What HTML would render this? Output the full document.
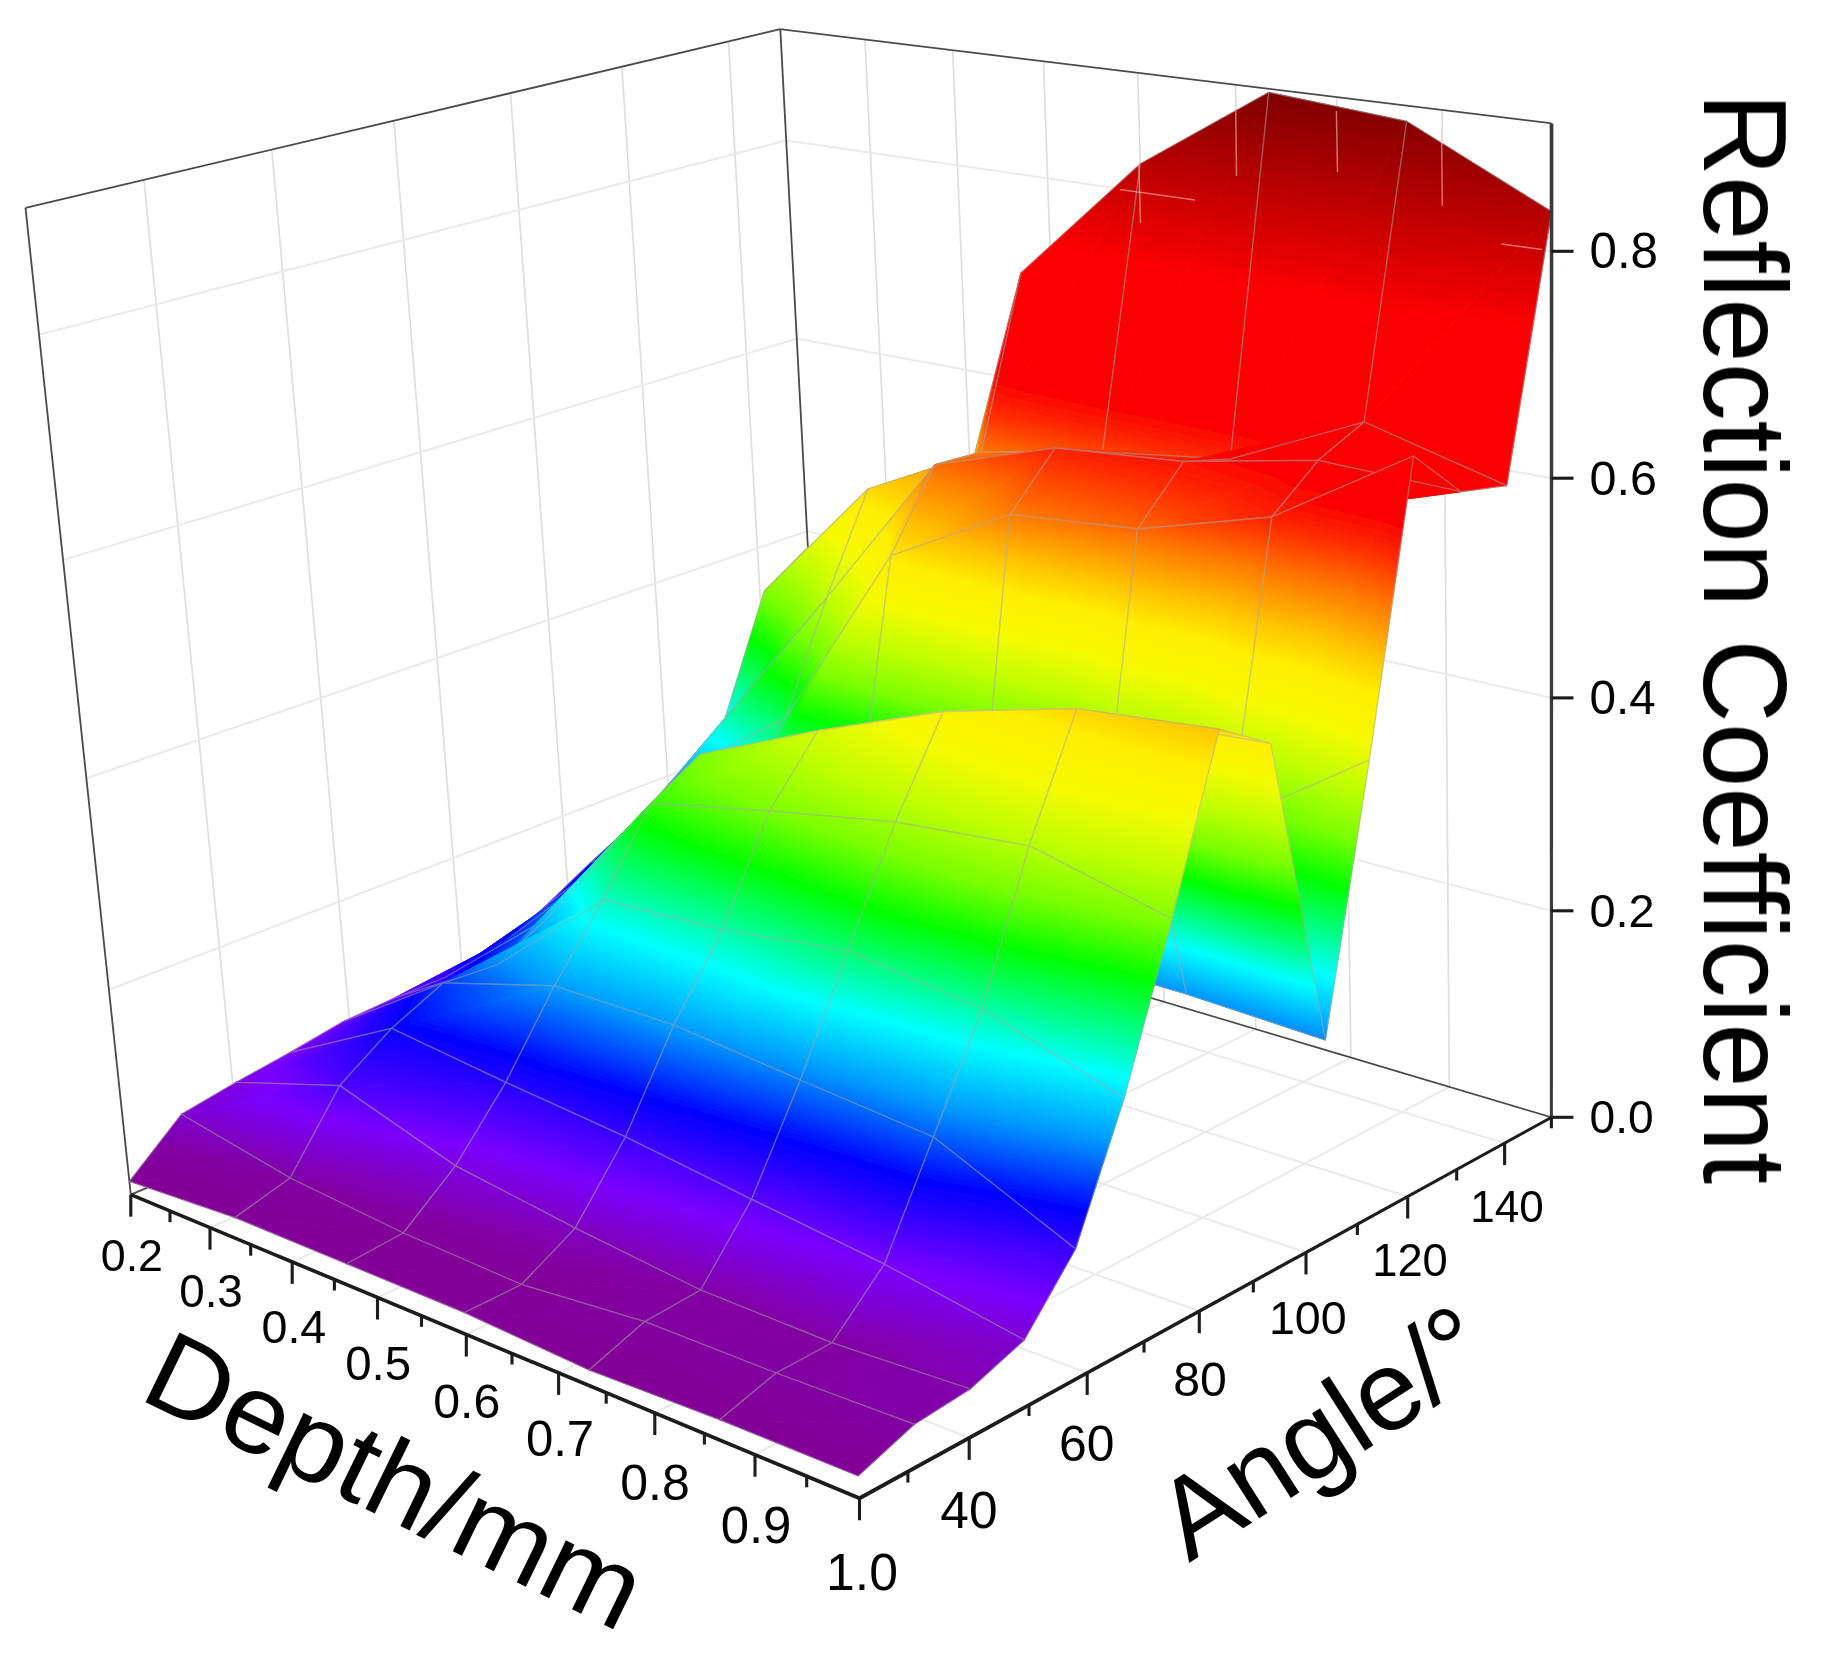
<!DOCTYPE html>
<html><head><meta charset="utf-8"><title>Reflection Coefficient surface</title>
<style>html,body{margin:0;padding:0;background:#fff}svg{display:block}
.g{stroke:#eaeaea;stroke-width:2;fill:none}.gv{stroke:#dedede;stroke-width:1.7;fill:none}.b{stroke:#4a4a4a;stroke-width:1.8;fill:none}
.w{stroke:#a8a8a8;stroke-opacity:.5;stroke-width:1.3;fill:none;stroke-linejoin:round}
.ax{stroke:#1a1a1a;stroke-width:4.5;fill:none;stroke-linejoin:miter}.az{stroke:#3a3a3a;stroke-width:4.2}
.t{stroke:#1c1c1c;stroke-width:3.1}.ar{stroke:#ffd0c8;stroke-opacity:.55;stroke-width:1.5}
polygon{stroke-width:.9;stroke-linejoin:round}
text{font-family:"Liberation Sans",sans-serif;fill:#050505}
</style></head><body>
<svg width="1821" height="1659" viewBox="0 0 1821 1659">
<defs><filter id="bl" x="-2%" y="-2%" width="104%" height="104%"><feGaussianBlur stdDeviation="0.7"/></filter><linearGradient id="g1" gradientUnits="userSpaceOnUse" x1="771.8" y1="673.5" x2="760.7" y2="551.2"><stop offset="0.000" stop-color="#00ff3f"/><stop offset="0.198" stop-color="#00ff00"/><stop offset="0.635" stop-color="#78ff00"/><stop offset="1.000" stop-color="#b3ff00"/></linearGradient>
<linearGradient id="g2" gradientUnits="userSpaceOnUse" x1="759.0" y1="643.6" x2="775.5" y2="479.7"><stop offset="0.000" stop-color="#00ff3f"/><stop offset="0.094" stop-color="#00ff00"/><stop offset="0.302" stop-color="#78ff00"/><stop offset="0.510" stop-color="#beff00"/><stop offset="0.718" stop-color="#f5fa00"/><stop offset="0.925" stop-color="#ffee00"/><stop offset="1.000" stop-color="#ffd900"/></linearGradient>
<linearGradient id="g3" gradientUnits="userSpaceOnUse" x1="921.9" y1="660.0" x2="1005.8" y2="663.2"><stop offset="0.000" stop-color="#00ff3f"/><stop offset="0.044" stop-color="#00ff00"/><stop offset="0.141" stop-color="#78ff00"/><stop offset="0.237" stop-color="#beff00"/><stop offset="0.334" stop-color="#f5fa00"/><stop offset="0.431" stop-color="#ffee00"/><stop offset="0.504" stop-color="#ffc300"/><stop offset="0.600" stop-color="#ff7d00"/><stop offset="0.697" stop-color="#ff2d00"/><stop offset="0.770" stop-color="#fa0000"/><stop offset="1.000" stop-color="#fa0000"/></linearGradient>
<linearGradient id="g4" gradientUnits="userSpaceOnUse" x1="847.0" y1="650.3" x2="874.6" y2="438.1"><stop offset="0.000" stop-color="#00ff3f"/><stop offset="0.072" stop-color="#00ff00"/><stop offset="0.230" stop-color="#78ff00"/><stop offset="0.388" stop-color="#beff00"/><stop offset="0.546" stop-color="#f5fa00"/><stop offset="0.704" stop-color="#ffee00"/><stop offset="0.822" stop-color="#ffc300"/><stop offset="0.980" stop-color="#ff7d00"/><stop offset="1.000" stop-color="#ff7300"/></linearGradient>
<linearGradient id="g5" gradientUnits="userSpaceOnUse" x1="981.4" y1="452.0" x2="1072.2" y2="143.7"><stop offset="0.000" stop-color="#ff7300"/><stop offset="0.124" stop-color="#ff2d00"/><stop offset="0.231" stop-color="#fa0000"/><stop offset="0.694" stop-color="#fa0000"/><stop offset="1.000" stop-color="#b90000"/></linearGradient>
<linearGradient id="g6" gradientUnits="userSpaceOnUse" x1="981.4" y1="452.0" x2="1049.9" y2="143.7"><stop offset="0.000" stop-color="#ff7300"/><stop offset="0.124" stop-color="#ff2d00"/><stop offset="0.231" stop-color="#fa0000"/><stop offset="0.694" stop-color="#fa0000"/><stop offset="1.000" stop-color="#b90000"/></linearGradient>
<linearGradient id="g7" gradientUnits="userSpaceOnUse" x1="1102.5" y1="452.0" x2="1163.4" y2="75.3"><stop offset="0.000" stop-color="#ff4400"/><stop offset="0.034" stop-color="#ff2d00"/><stop offset="0.123" stop-color="#fa0000"/><stop offset="0.507" stop-color="#fa0000"/><stop offset="0.802" stop-color="#af0000"/><stop offset="1.000" stop-color="#7f0000"/></linearGradient>
<linearGradient id="g8" gradientUnits="userSpaceOnUse" x1="1102.5" y1="452.0" x2="1181.5" y2="74.1"><stop offset="0.000" stop-color="#ff4400"/><stop offset="0.034" stop-color="#ff2d00"/><stop offset="0.123" stop-color="#fa0000"/><stop offset="0.507" stop-color="#fa0000"/><stop offset="0.802" stop-color="#af0000"/><stop offset="1.000" stop-color="#7f0000"/></linearGradient>
<linearGradient id="g9" gradientUnits="userSpaceOnUse" x1="1230.3" y1="459.0" x2="1274.8" y2="93.0"><stop offset="0.000" stop-color="#fe2500"/><stop offset="0.077" stop-color="#fa0000"/><stop offset="0.481" stop-color="#fa0000"/><stop offset="0.792" stop-color="#af0000"/><stop offset="1.000" stop-color="#7f0000"/></linearGradient>
<linearGradient id="g10" gradientUnits="userSpaceOnUse" x1="1230.3" y1="459.0" x2="1318.6" y2="99.7"><stop offset="0.000" stop-color="#fe2500"/><stop offset="0.079" stop-color="#fa0000"/><stop offset="0.497" stop-color="#fa0000"/><stop offset="0.819" stop-color="#af0000"/><stop offset="1.000" stop-color="#870000"/></linearGradient>
<linearGradient id="g11" gradientUnits="userSpaceOnUse" x1="1364.2" y1="422.0" x2="1397.1" y2="120.3"><stop offset="0.000" stop-color="#fa0000"/><stop offset="0.384" stop-color="#fa0000"/><stop offset="0.778" stop-color="#af0000"/><stop offset="1.000" stop-color="#870000"/></linearGradient>
<linearGradient id="g12" gradientUnits="userSpaceOnUse" x1="1358.0" y1="462.7" x2="1400.2" y2="188.2"><stop offset="0.000" stop-color="#fa0200"/><stop offset="0.005" stop-color="#fa0000"/><stop offset="0.581" stop-color="#fa0000"/><stop offset="1.000" stop-color="#b30000"/></linearGradient>
<linearGradient id="g13" gradientUnits="userSpaceOnUse" x1="725.1" y1="718.0" x2="876.8" y2="495.0"><stop offset="0.000" stop-color="#00fffe"/><stop offset="0.145" stop-color="#00ff80"/><stop offset="0.294" stop-color="#00ff00"/><stop offset="0.456" stop-color="#78ff00"/><stop offset="0.618" stop-color="#beff00"/><stop offset="0.780" stop-color="#f5fa00"/><stop offset="0.942" stop-color="#ffee00"/><stop offset="1.000" stop-color="#ffd900"/></linearGradient>
<linearGradient id="g14" gradientUnits="userSpaceOnUse" x1="725.1" y1="718.0" x2="931.2" y2="594.1"><stop offset="0.000" stop-color="#00fffe"/><stop offset="0.145" stop-color="#00ff80"/><stop offset="0.294" stop-color="#00ff00"/><stop offset="0.456" stop-color="#78ff00"/><stop offset="0.618" stop-color="#beff00"/><stop offset="0.780" stop-color="#f5fa00"/><stop offset="0.942" stop-color="#ffee00"/><stop offset="1.000" stop-color="#ffd900"/></linearGradient>
<linearGradient id="g15" gradientUnits="userSpaceOnUse" x1="826.5" y1="598.2" x2="895.2" y2="419.0"><stop offset="0.000" stop-color="#beff00"/><stop offset="0.258" stop-color="#f5fa00"/><stop offset="0.516" stop-color="#ffee00"/><stop offset="0.710" stop-color="#ffc300"/><stop offset="0.968" stop-color="#ff7d00"/><stop offset="1.000" stop-color="#ff7300"/></linearGradient>
<linearGradient id="g16" gradientUnits="userSpaceOnUse" x1="826.5" y1="598.2" x2="798.1" y2="507.3"><stop offset="0.000" stop-color="#beff00"/><stop offset="0.253" stop-color="#f5fa00"/><stop offset="0.506" stop-color="#ffee00"/><stop offset="0.696" stop-color="#ffc300"/><stop offset="0.949" stop-color="#ff7d00"/><stop offset="1.000" stop-color="#ff6d00"/></linearGradient>
<linearGradient id="g17" gradientUnits="userSpaceOnUse" x1="934.1" y1="461.7" x2="939.0" y2="485.5"><stop offset="0.000" stop-color="#ff7300"/><stop offset="1.000" stop-color="#ff4400"/></linearGradient>
<linearGradient id="g18" gradientUnits="userSpaceOnUse" x1="934.8" y1="464.7" x2="934.3" y2="452.7"><stop offset="0.000" stop-color="#ff6d00"/><stop offset="0.810" stop-color="#ff2d00"/><stop offset="1.000" stop-color="#fe2200"/></linearGradient>
<linearGradient id="g19" gradientUnits="userSpaceOnUse" x1="1055.3" y1="449.1" x2="1055.4" y2="448.0"><stop offset="0.000" stop-color="#ff4400"/><stop offset="0.607" stop-color="#ff2d00"/><stop offset="1.000" stop-color="#fe2200"/></linearGradient>
<linearGradient id="g20" gradientUnits="userSpaceOnUse" x1="1055.5" y1="447.1" x2="1055.1" y2="452.7"><stop offset="0.000" stop-color="#fe2500"/><stop offset="1.000" stop-color="#fc1100"/></linearGradient>
<linearGradient id="g21" gradientUnits="userSpaceOnUse" x1="1184.2" y1="465.5" x2="1181.7" y2="447.9"><stop offset="0.000" stop-color="#fe2500"/><stop offset="0.432" stop-color="#fa0000"/><stop offset="1.000" stop-color="#fa0000"/></linearGradient>
<linearGradient id="g22" gradientUnits="userSpaceOnUse" x1="1183.6" y1="461.5" x2="1252.7" y2="351.8"><stop offset="0.000" stop-color="#fc1100"/><stop offset="0.264" stop-color="#fa0000"/><stop offset="1.000" stop-color="#fa0000"/></linearGradient>
<linearGradient id="g23" gradientUnits="userSpaceOnUse" x1="1318.7" y1="487.9" x2="1317.9" y2="422.6"><stop offset="0.000" stop-color="#fa0200"/><stop offset="0.031" stop-color="#fa0000"/><stop offset="1.000" stop-color="#fa0000"/></linearGradient>
<linearGradient id="g24" gradientUnits="userSpaceOnUse" x1="1324.7" y1="436.8" x2="1318.3" y2="460.3"><stop offset="0.000" stop-color="#fa0200"/><stop offset="0.073" stop-color="#fa0000"/><stop offset="1.000" stop-color="#fa0000"/></linearGradient>
<linearGradient id="g25" gradientUnits="userSpaceOnUse" x1="681.0" y1="770.0" x2="680.7" y2="769.8"><stop offset="0.000" stop-color="#00aeff"/><stop offset="0.191" stop-color="#00ffff"/><stop offset="0.382" stop-color="#00ff80"/><stop offset="0.577" stop-color="#00ff00"/><stop offset="0.789" stop-color="#78ff00"/><stop offset="1.000" stop-color="#beff00"/></linearGradient>
<linearGradient id="g26" gradientUnits="userSpaceOnUse" x1="681.0" y1="770.0" x2="799.9" y2="581.5"><stop offset="0.000" stop-color="#00aeff"/><stop offset="0.191" stop-color="#00ffff"/><stop offset="0.382" stop-color="#00ff80"/><stop offset="0.577" stop-color="#00ff00"/><stop offset="0.789" stop-color="#78ff00"/><stop offset="1.000" stop-color="#beff00"/></linearGradient>
<linearGradient id="g27" gradientUnits="userSpaceOnUse" x1="785.4" y1="718.6" x2="988.8" y2="520.1"><stop offset="0.000" stop-color="#00ff56"/><stop offset="0.095" stop-color="#00ff00"/><stop offset="0.247" stop-color="#78ff00"/><stop offset="0.399" stop-color="#beff00"/><stop offset="0.551" stop-color="#f5fa00"/><stop offset="0.703" stop-color="#ffee00"/><stop offset="0.817" stop-color="#ffc300"/><stop offset="0.970" stop-color="#ff7d00"/><stop offset="1.000" stop-color="#ff6d00"/></linearGradient>
<linearGradient id="g28" gradientUnits="userSpaceOnUse" x1="785.4" y1="718.6" x2="900.4" y2="733.3"><stop offset="0.000" stop-color="#00ff56"/><stop offset="0.095" stop-color="#00ff00"/><stop offset="0.247" stop-color="#78ff00"/><stop offset="0.399" stop-color="#beff00"/><stop offset="0.551" stop-color="#f5fa00"/><stop offset="0.703" stop-color="#ffee00"/><stop offset="0.817" stop-color="#ffc300"/><stop offset="0.970" stop-color="#ff7d00"/><stop offset="1.000" stop-color="#ff6d00"/></linearGradient>
<linearGradient id="g29" gradientUnits="userSpaceOnUse" x1="890.9" y1="555.7" x2="940.7" y2="409.0"><stop offset="0.000" stop-color="#ffe600"/><stop offset="0.219" stop-color="#ffc300"/><stop offset="0.576" stop-color="#ff7d00"/><stop offset="0.933" stop-color="#ff2d00"/><stop offset="1.000" stop-color="#fe2200"/></linearGradient>
<linearGradient id="g30" gradientUnits="userSpaceOnUse" x1="890.9" y1="555.7" x2="1017.7" y2="414.2"><stop offset="0.000" stop-color="#ffe600"/><stop offset="0.219" stop-color="#ffc300"/><stop offset="0.576" stop-color="#ff7d00"/><stop offset="0.933" stop-color="#ff2d00"/><stop offset="1.000" stop-color="#fe2200"/></linearGradient>
<linearGradient id="g31" gradientUnits="userSpaceOnUse" x1="1009.8" y1="514.5" x2="1031.9" y2="424.3"><stop offset="0.000" stop-color="#ff7c00"/><stop offset="0.683" stop-color="#ff2d00"/><stop offset="1.000" stop-color="#fc1100"/></linearGradient>
<linearGradient id="g32" gradientUnits="userSpaceOnUse" x1="1009.8" y1="514.5" x2="1035.0" y2="421.4"><stop offset="0.000" stop-color="#ff7c00"/><stop offset="0.683" stop-color="#ff2d00"/><stop offset="1.000" stop-color="#fc1100"/></linearGradient>
<linearGradient id="g33" gradientUnits="userSpaceOnUse" x1="1137.7" y1="529.0" x2="1173.8" y2="414.7"><stop offset="0.000" stop-color="#ff6500"/><stop offset="0.394" stop-color="#ff2d00"/><stop offset="0.816" stop-color="#fa0000"/><stop offset="1.000" stop-color="#fa0000"/></linearGradient>
<linearGradient id="g34" gradientUnits="userSpaceOnUse" x1="1137.7" y1="529.0" x2="1206.5" y2="400.5"><stop offset="0.000" stop-color="#ff6500"/><stop offset="0.394" stop-color="#ff2d00"/><stop offset="0.816" stop-color="#fa0000"/><stop offset="1.000" stop-color="#fa0000"/></linearGradient>
<linearGradient id="g35" gradientUnits="userSpaceOnUse" x1="1271.9" y1="517.0" x2="1282.7" y2="454.2"><stop offset="0.000" stop-color="#fe2100"/><stop offset="0.627" stop-color="#fa0000"/><stop offset="1.000" stop-color="#fa0000"/></linearGradient>
<linearGradient id="g36" gradientUnits="userSpaceOnUse" x1="1271.9" y1="517.0" x2="1271.6" y2="456.8"><stop offset="0.000" stop-color="#fe2100"/><stop offset="0.283" stop-color="#fa0000"/><stop offset="1.000" stop-color="#fa0000"/></linearGradient>
<linearGradient id="g37" gradientUnits="userSpaceOnUse" x1="636.2" y1="821.0" x2="778.3" y2="830.0"><stop offset="0.000" stop-color="#004fff"/><stop offset="0.200" stop-color="#0096ff"/><stop offset="0.596" stop-color="#00ffff"/><stop offset="0.899" stop-color="#00ff80"/><stop offset="1.000" stop-color="#00ff56"/></linearGradient>
<linearGradient id="g38" gradientUnits="userSpaceOnUse" x1="636.2" y1="821.0" x2="730.9" y2="681.6"><stop offset="0.000" stop-color="#004fff"/><stop offset="0.200" stop-color="#0096ff"/><stop offset="0.596" stop-color="#00ffff"/><stop offset="0.899" stop-color="#00ff80"/><stop offset="1.000" stop-color="#00ff56"/></linearGradient>
<linearGradient id="g39" gradientUnits="userSpaceOnUse" x1="741.8" y1="800.4" x2="813.9" y2="821.3"><stop offset="0.000" stop-color="#00d9ff"/><stop offset="0.067" stop-color="#00ffff"/><stop offset="0.207" stop-color="#00ff80"/><stop offset="0.352" stop-color="#00ff00"/><stop offset="0.509" stop-color="#78ff00"/><stop offset="0.666" stop-color="#beff00"/><stop offset="0.822" stop-color="#f5fa00"/><stop offset="0.979" stop-color="#ffee00"/><stop offset="1.000" stop-color="#ffe600"/></linearGradient>
<linearGradient id="g40" gradientUnits="userSpaceOnUse" x1="741.8" y1="800.4" x2="816.8" y2="534.8"><stop offset="0.000" stop-color="#00d9ff"/><stop offset="0.067" stop-color="#00ffff"/><stop offset="0.207" stop-color="#00ff80"/><stop offset="0.352" stop-color="#00ff00"/><stop offset="0.509" stop-color="#78ff00"/><stop offset="0.666" stop-color="#beff00"/><stop offset="0.822" stop-color="#f5fa00"/><stop offset="0.979" stop-color="#ffee00"/><stop offset="1.000" stop-color="#ffe600"/></linearGradient>
<linearGradient id="g41" gradientUnits="userSpaceOnUse" x1="855.9" y1="832.7" x2="944.9" y2="497.3"><stop offset="0.000" stop-color="#00d9ff"/><stop offset="0.053" stop-color="#00ffff"/><stop offset="0.165" stop-color="#00ff80"/><stop offset="0.281" stop-color="#00ff00"/><stop offset="0.406" stop-color="#78ff00"/><stop offset="0.531" stop-color="#beff00"/><stop offset="0.656" stop-color="#f5fa00"/><stop offset="0.780" stop-color="#ffee00"/><stop offset="0.874" stop-color="#ffc300"/><stop offset="0.999" stop-color="#ff7d00"/><stop offset="1.000" stop-color="#ff7c00"/></linearGradient>
<linearGradient id="g42" gradientUnits="userSpaceOnUse" x1="850.4" y1="853.6" x2="944.4" y2="497.2"><stop offset="0.000" stop-color="#00acff"/><stop offset="0.109" stop-color="#00ffff"/><stop offset="0.214" stop-color="#00ff80"/><stop offset="0.323" stop-color="#00ff00"/><stop offset="0.441" stop-color="#78ff00"/><stop offset="0.558" stop-color="#beff00"/><stop offset="0.676" stop-color="#f5fa00"/><stop offset="0.793" stop-color="#ffee00"/><stop offset="0.881" stop-color="#ffc300"/><stop offset="0.999" stop-color="#ff7d00"/><stop offset="1.000" stop-color="#ff7c00"/></linearGradient>
<linearGradient id="g43" gradientUnits="userSpaceOnUse" x1="976.5" y1="886.9" x2="1057.1" y2="511.7"><stop offset="0.000" stop-color="#00acff"/><stop offset="0.105" stop-color="#00ffff"/><stop offset="0.207" stop-color="#00ff80"/><stop offset="0.313" stop-color="#00ff00"/><stop offset="0.426" stop-color="#78ff00"/><stop offset="0.540" stop-color="#beff00"/><stop offset="0.653" stop-color="#f5fa00"/><stop offset="0.767" stop-color="#ffee00"/><stop offset="0.852" stop-color="#ffc300"/><stop offset="0.966" stop-color="#ff7d00"/><stop offset="1.000" stop-color="#ff6500"/></linearGradient>
<linearGradient id="g44" gradientUnits="userSpaceOnUse" x1="976.5" y1="886.9" x2="1108.2" y2="518.4"><stop offset="0.000" stop-color="#00acff"/><stop offset="0.105" stop-color="#00ffff"/><stop offset="0.207" stop-color="#00ff80"/><stop offset="0.313" stop-color="#00ff00"/><stop offset="0.426" stop-color="#78ff00"/><stop offset="0.540" stop-color="#beff00"/><stop offset="0.653" stop-color="#f5fa00"/><stop offset="0.767" stop-color="#ffee00"/><stop offset="0.852" stop-color="#ffc300"/><stop offset="0.966" stop-color="#ff7d00"/><stop offset="1.000" stop-color="#ff6500"/></linearGradient>
<linearGradient id="g45" gradientUnits="userSpaceOnUse" x1="1099.9" y1="860.1" x2="1180.9" y2="496.7"><stop offset="0.000" stop-color="#00ffae"/><stop offset="0.040" stop-color="#00ff80"/><stop offset="0.152" stop-color="#00ff00"/><stop offset="0.274" stop-color="#78ff00"/><stop offset="0.396" stop-color="#beff00"/><stop offset="0.518" stop-color="#f5fa00"/><stop offset="0.640" stop-color="#ffee00"/><stop offset="0.732" stop-color="#ffc300"/><stop offset="0.854" stop-color="#ff7d00"/><stop offset="0.976" stop-color="#ff2d00"/><stop offset="1.000" stop-color="#fe2100"/></linearGradient>
<linearGradient id="g46" gradientUnits="userSpaceOnUse" x1="1099.9" y1="860.1" x2="1229.8" y2="501.7"><stop offset="0.000" stop-color="#00ffae"/><stop offset="0.040" stop-color="#00ff80"/><stop offset="0.152" stop-color="#00ff00"/><stop offset="0.274" stop-color="#78ff00"/><stop offset="0.396" stop-color="#beff00"/><stop offset="0.518" stop-color="#f5fa00"/><stop offset="0.640" stop-color="#ffee00"/><stop offset="0.732" stop-color="#ffc300"/><stop offset="0.854" stop-color="#ff7d00"/><stop offset="0.976" stop-color="#ff2d00"/><stop offset="1.000" stop-color="#fe2100"/></linearGradient>
<linearGradient id="g47" gradientUnits="userSpaceOnUse" x1="1230.5" y1="820.9" x2="1322.0" y2="434.3"><stop offset="0.000" stop-color="#3cff00"/><stop offset="0.060" stop-color="#78ff00"/><stop offset="0.179" stop-color="#beff00"/><stop offset="0.298" stop-color="#f5fa00"/><stop offset="0.417" stop-color="#ffee00"/><stop offset="0.506" stop-color="#ffc300"/><stop offset="0.625" stop-color="#ff7d00"/><stop offset="0.745" stop-color="#ff2d00"/><stop offset="0.834" stop-color="#fa0000"/><stop offset="1.000" stop-color="#fa0000"/></linearGradient>
<linearGradient id="g48" gradientUnits="userSpaceOnUse" x1="1230.5" y1="820.9" x2="1371.1" y2="440.3"><stop offset="0.000" stop-color="#3cff00"/><stop offset="0.060" stop-color="#78ff00"/><stop offset="0.179" stop-color="#beff00"/><stop offset="0.298" stop-color="#f5fa00"/><stop offset="0.417" stop-color="#ffee00"/><stop offset="0.506" stop-color="#ffc300"/><stop offset="0.625" stop-color="#ff7d00"/><stop offset="0.745" stop-color="#ff2d00"/><stop offset="0.834" stop-color="#fa0000"/><stop offset="1.000" stop-color="#fa0000"/></linearGradient>
<linearGradient id="g49" gradientUnits="userSpaceOnUse" x1="590.0" y1="863.0" x2="744.7" y2="854.5"><stop offset="0.000" stop-color="#0005ff"/><stop offset="0.617" stop-color="#0096ff"/><stop offset="1.000" stop-color="#00d9ff"/></linearGradient>
<linearGradient id="g50" gradientUnits="userSpaceOnUse" x1="590.0" y1="863.0" x2="589.0" y2="860.5"><stop offset="0.000" stop-color="#0005ff"/><stop offset="0.617" stop-color="#0096ff"/><stop offset="1.000" stop-color="#00d9ff"/></linearGradient>
<linearGradient id="g51" gradientUnits="userSpaceOnUse" x1="690.1" y1="862.7" x2="693.7" y2="819.4"><stop offset="0.000" stop-color="#00acff"/><stop offset="1.000" stop-color="#00d9ff"/></linearGradient>
<linearGradient id="g52" gradientUnits="userSpaceOnUse" x1="809.0" y1="872.5" x2="812.7" y2="829.0"><stop offset="0.000" stop-color="#00acff"/><stop offset="1.000" stop-color="#00d9ff"/></linearGradient>
<linearGradient id="g53" gradientUnits="userSpaceOnUse" x1="806.0" y1="907.3" x2="809.0" y2="872.5"><stop offset="0.000" stop-color="#0096ff"/><stop offset="1.000" stop-color="#00acff"/></linearGradient>
<linearGradient id="g54" gradientUnits="userSpaceOnUse" x1="929.1" y1="917.8" x2="984.5" y2="974.0"><stop offset="0.000" stop-color="#0096ff"/><stop offset="0.671" stop-color="#00ffff"/><stop offset="1.000" stop-color="#00ffae"/></linearGradient>
<linearGradient id="g55" gradientUnits="userSpaceOnUse" x1="929.1" y1="917.8" x2="958.4" y2="818.4"><stop offset="0.000" stop-color="#0096ff"/><stop offset="0.671" stop-color="#00ffff"/><stop offset="1.000" stop-color="#00ffae"/></linearGradient>
<linearGradient id="g56" gradientUnits="userSpaceOnUse" x1="1054.6" y1="954.9" x2="1168.2" y2="780.4"><stop offset="0.000" stop-color="#0096ff"/><stop offset="0.336" stop-color="#00ffff"/><stop offset="0.593" stop-color="#00ff80"/><stop offset="0.857" stop-color="#00ff00"/><stop offset="1.000" stop-color="#3cff00"/></linearGradient>
<linearGradient id="g57" gradientUnits="userSpaceOnUse" x1="1054.5" y1="955.1" x2="1105.0" y2="783.9"><stop offset="0.000" stop-color="#0096ff"/><stop offset="0.001" stop-color="#0096ff"/><stop offset="0.336" stop-color="#00ffff"/><stop offset="0.593" stop-color="#00ff80"/><stop offset="0.857" stop-color="#00ff00"/><stop offset="1.000" stop-color="#3cff00"/></linearGradient>
<linearGradient id="g58" gradientUnits="userSpaceOnUse" x1="1186.5" y1="994.0" x2="1297.0" y2="729.8"><stop offset="0.000" stop-color="#0096ff"/><stop offset="0.001" stop-color="#0096ff"/><stop offset="0.207" stop-color="#00ffff"/><stop offset="0.366" stop-color="#00ff80"/><stop offset="0.529" stop-color="#00ff00"/><stop offset="0.705" stop-color="#78ff00"/><stop offset="0.881" stop-color="#beff00"/><stop offset="1.000" stop-color="#e3fc00"/></linearGradient>
<linearGradient id="g59" gradientUnits="userSpaceOnUse" x1="1185.0" y1="999.3" x2="1263.2" y2="729.3"><stop offset="0.000" stop-color="#0088ff"/><stop offset="0.020" stop-color="#0096ff"/><stop offset="0.223" stop-color="#00ffff"/><stop offset="0.378" stop-color="#00ff80"/><stop offset="0.538" stop-color="#00ff00"/><stop offset="0.711" stop-color="#78ff00"/><stop offset="0.883" stop-color="#beff00"/><stop offset="1.000" stop-color="#e3fc00"/></linearGradient>
<linearGradient id="g60" gradientUnits="userSpaceOnUse" x1="543.3" y1="908.0" x2="646.7" y2="946.3"><stop offset="0.000" stop-color="#3300ff"/><stop offset="0.239" stop-color="#0000ff"/><stop offset="0.715" stop-color="#0096ff"/><stop offset="1.000" stop-color="#00d9ff"/></linearGradient>
<linearGradient id="g61" gradientUnits="userSpaceOnUse" x1="543.3" y1="908.0" x2="530.1" y2="860.3"><stop offset="0.000" stop-color="#3300ff"/><stop offset="0.218" stop-color="#0000ff"/><stop offset="0.652" stop-color="#0096ff"/><stop offset="1.000" stop-color="#00efff"/></linearGradient>
<linearGradient id="g62" gradientUnits="userSpaceOnUse" x1="792.0" y1="795.9" x2="644.0" y2="828.7"><stop offset="0.000" stop-color="#00acff"/><stop offset="1.000" stop-color="#00efff"/></linearGradient>
<linearGradient id="g63" gradientUnits="userSpaceOnUse" x1="641.2" y1="852.8" x2="653.5" y2="748.2"><stop offset="0.000" stop-color="#00acff"/><stop offset="0.285" stop-color="#00ffff"/><stop offset="0.562" stop-color="#00ff80"/><stop offset="0.846" stop-color="#00ff00"/><stop offset="1.000" stop-color="#3cff00"/></linearGradient>
<linearGradient id="g64" gradientUnits="userSpaceOnUse" x1="722.9" y1="852.5" x2="752.3" y2="759.8"><stop offset="0.000" stop-color="#0096ff"/><stop offset="0.336" stop-color="#00ffff"/><stop offset="0.593" stop-color="#00ff80"/><stop offset="0.857" stop-color="#00ff00"/><stop offset="1.000" stop-color="#3cff00"/></linearGradient>
<linearGradient id="g65" gradientUnits="userSpaceOnUse" x1="728.6" y1="877.5" x2="760.8" y2="717.7"><stop offset="0.000" stop-color="#0096ff"/><stop offset="0.247" stop-color="#00ffff"/><stop offset="0.437" stop-color="#00ff80"/><stop offset="0.632" stop-color="#00ff00"/><stop offset="0.842" stop-color="#78ff00"/><stop offset="1.000" stop-color="#acff00"/></linearGradient>
<linearGradient id="g66" gradientUnits="userSpaceOnUse" x1="826.7" y1="887.6" x2="870.4" y2="739.8"><stop offset="0.000" stop-color="#0096ff"/><stop offset="0.247" stop-color="#00ffff"/><stop offset="0.437" stop-color="#00ff80"/><stop offset="0.632" stop-color="#00ff00"/><stop offset="0.842" stop-color="#78ff00"/><stop offset="1.000" stop-color="#acff00"/></linearGradient>
<linearGradient id="g67" gradientUnits="userSpaceOnUse" x1="835.6" y1="910.2" x2="879.5" y2="694.9"><stop offset="0.000" stop-color="#0096ff"/><stop offset="0.196" stop-color="#00ffff"/><stop offset="0.346" stop-color="#00ff80"/><stop offset="0.500" stop-color="#00ff00"/><stop offset="0.667" stop-color="#78ff00"/><stop offset="0.833" stop-color="#beff00"/><stop offset="1.000" stop-color="#f5fa00"/></linearGradient>
<linearGradient id="g68" gradientUnits="userSpaceOnUse" x1="935.9" y1="920.0" x2="995.4" y2="718.5"><stop offset="0.000" stop-color="#0096ff"/><stop offset="0.001" stop-color="#0096ff"/><stop offset="0.196" stop-color="#00ffff"/><stop offset="0.346" stop-color="#00ff80"/><stop offset="0.500" stop-color="#00ff00"/><stop offset="0.667" stop-color="#78ff00"/><stop offset="0.833" stop-color="#beff00"/><stop offset="1.000" stop-color="#f5fa00"/></linearGradient>
<linearGradient id="g69" gradientUnits="userSpaceOnUse" x1="946.5" y1="941.3" x2="1001.5" y2="690.7"><stop offset="0.000" stop-color="#0096ff"/><stop offset="0.001" stop-color="#0096ff"/><stop offset="0.175" stop-color="#00ffff"/><stop offset="0.308" stop-color="#00ff80"/><stop offset="0.445" stop-color="#00ff00"/><stop offset="0.593" stop-color="#78ff00"/><stop offset="0.741" stop-color="#beff00"/><stop offset="0.889" stop-color="#f5fa00"/><stop offset="1.000" stop-color="#fcf100"/></linearGradient>
<linearGradient id="g70" gradientUnits="userSpaceOnUse" x1="1056.7" y1="959.4" x2="1128.8" y2="718.7"><stop offset="0.000" stop-color="#0088ff"/><stop offset="0.017" stop-color="#0096ff"/><stop offset="0.188" stop-color="#00ffff"/><stop offset="0.319" stop-color="#00ff80"/><stop offset="0.454" stop-color="#00ff00"/><stop offset="0.600" stop-color="#78ff00"/><stop offset="0.745" stop-color="#beff00"/><stop offset="0.891" stop-color="#f5fa00"/><stop offset="1.000" stop-color="#fcf100"/></linearGradient>
<linearGradient id="g71" gradientUnits="userSpaceOnUse" x1="1067.3" y1="979.0" x2="1130.8" y2="710.2"><stop offset="0.000" stop-color="#0088ff"/><stop offset="0.017" stop-color="#0096ff"/><stop offset="0.182" stop-color="#00ffff"/><stop offset="0.309" stop-color="#00ff80"/><stop offset="0.440" stop-color="#00ff00"/><stop offset="0.581" stop-color="#78ff00"/><stop offset="0.722" stop-color="#beff00"/><stop offset="0.863" stop-color="#f5fa00"/><stop offset="1.000" stop-color="#ffee00"/></linearGradient>
<linearGradient id="g72" gradientUnits="userSpaceOnUse" x1="495.4" y1="948.0" x2="499.9" y2="953.3"><stop offset="0.000" stop-color="#5e00ff"/><stop offset="0.338" stop-color="#0000ff"/><stop offset="0.706" stop-color="#0096ff"/><stop offset="1.000" stop-color="#00efff"/></linearGradient>
<linearGradient id="g73" gradientUnits="userSpaceOnUse" x1="495.4" y1="948.0" x2="516.2" y2="967.2"><stop offset="0.000" stop-color="#5e00ff"/><stop offset="0.338" stop-color="#0000ff"/><stop offset="0.706" stop-color="#0096ff"/><stop offset="1.000" stop-color="#00efff"/></linearGradient>
<linearGradient id="g74" gradientUnits="userSpaceOnUse" x1="595.7" y1="873.4" x2="638.7" y2="906.6"><stop offset="0.000" stop-color="#00b8ff"/><stop offset="0.256" stop-color="#00ffff"/><stop offset="0.544" stop-color="#00ff80"/><stop offset="0.840" stop-color="#00ff00"/><stop offset="1.000" stop-color="#3cff00"/></linearGradient>
<linearGradient id="g75" gradientUnits="userSpaceOnUse" x1="595.7" y1="873.4" x2="577.0" y2="778.9"><stop offset="0.000" stop-color="#00b8ff"/><stop offset="0.215" stop-color="#00ffff"/><stop offset="0.457" stop-color="#00ff80"/><stop offset="0.706" stop-color="#00ff00"/><stop offset="0.974" stop-color="#78ff00"/><stop offset="1.000" stop-color="#7fff00"/></linearGradient>
<linearGradient id="g76" gradientUnits="userSpaceOnUse" x1="700.5" y1="761.8" x2="699.9" y2="746.3"><stop offset="0.000" stop-color="#3cff00"/><stop offset="0.400" stop-color="#78ff00"/><stop offset="1.000" stop-color="#acff00"/></linearGradient>
<linearGradient id="g77" gradientUnits="userSpaceOnUse" x1="700.2" y1="754.4" x2="699.7" y2="733.5"><stop offset="0.000" stop-color="#7fff00"/><stop offset="0.680" stop-color="#beff00"/><stop offset="1.000" stop-color="#d5fd00"/></linearGradient>
<linearGradient id="g78" gradientUnits="userSpaceOnUse" x1="818.3" y1="740.7" x2="817.9" y2="721.8"><stop offset="0.000" stop-color="#acff00"/><stop offset="0.200" stop-color="#beff00"/><stop offset="1.000" stop-color="#f5fa00"/></linearGradient>
<linearGradient id="g79" gradientUnits="userSpaceOnUse" x1="818.1" y1="730.5" x2="817.7" y2="714.5"><stop offset="0.000" stop-color="#d5fd00"/><stop offset="0.483" stop-color="#f5fa00"/><stop offset="1.000" stop-color="#fbf300"/></linearGradient>
<linearGradient id="g80" gradientUnits="userSpaceOnUse" x1="943.1" y1="716.2" x2="943.4" y2="710.5"><stop offset="0.000" stop-color="#f5fa00"/><stop offset="1.000" stop-color="#fcf100"/></linearGradient>
<linearGradient id="g81" gradientUnits="userSpaceOnUse" x1="943.3" y1="711.5" x2="943.8" y2="702.5"><stop offset="0.000" stop-color="#fbf300"/><stop offset="0.477" stop-color="#ffee00"/><stop offset="1.000" stop-color="#ffd600"/></linearGradient>
<linearGradient id="g82" gradientUnits="userSpaceOnUse" x1="1076.8" y1="709.5" x2="1076.9" y2="708.7"><stop offset="0.000" stop-color="#fcf100"/><stop offset="0.371" stop-color="#ffee00"/><stop offset="1.000" stop-color="#ffd600"/></linearGradient>
<linearGradient id="g83" gradientUnits="userSpaceOnUse" x1="1076.4" y1="712.1" x2="1077.3" y2="706.4"><stop offset="0.000" stop-color="#ffee00"/><stop offset="0.036" stop-color="#ffee00"/><stop offset="1.000" stop-color="#ffc400"/></linearGradient>
<linearGradient id="g84" gradientUnits="userSpaceOnUse" x1="445.7" y1="977.0" x2="437.0" y2="961.2"><stop offset="0.000" stop-color="#7000ff"/><stop offset="0.458" stop-color="#0000ff"/><stop offset="0.875" stop-color="#0096ff"/><stop offset="1.000" stop-color="#00b8ff"/></linearGradient>
<linearGradient id="g85" gradientUnits="userSpaceOnUse" x1="445.7" y1="977.0" x2="492.1" y2="1011.7"><stop offset="0.000" stop-color="#7000ff"/><stop offset="0.458" stop-color="#0000ff"/><stop offset="0.875" stop-color="#0096ff"/><stop offset="1.000" stop-color="#00b8ff"/></linearGradient>
<linearGradient id="g86" gradientUnits="userSpaceOnUse" x1="546.6" y1="918.8" x2="526.8" y2="894.2"><stop offset="0.000" stop-color="#0078ff"/><stop offset="0.058" stop-color="#0096ff"/><stop offset="0.328" stop-color="#00ffff"/><stop offset="0.535" stop-color="#00ff80"/><stop offset="0.748" stop-color="#00ff00"/><stop offset="0.978" stop-color="#78ff00"/><stop offset="1.000" stop-color="#7fff00"/></linearGradient>
<linearGradient id="g87" gradientUnits="userSpaceOnUse" x1="546.6" y1="918.8" x2="533.9" y2="904.7"><stop offset="0.000" stop-color="#0078ff"/><stop offset="0.058" stop-color="#0096ff"/><stop offset="0.328" stop-color="#00ffff"/><stop offset="0.535" stop-color="#00ff80"/><stop offset="0.748" stop-color="#00ff00"/><stop offset="0.978" stop-color="#78ff00"/><stop offset="1.000" stop-color="#7fff00"/></linearGradient>
<linearGradient id="g88" gradientUnits="userSpaceOnUse" x1="650.5" y1="803.5" x2="823.4" y2="746.6"><stop offset="0.000" stop-color="#30ff00"/><stop offset="0.297" stop-color="#78ff00"/><stop offset="0.790" stop-color="#beff00"/><stop offset="1.000" stop-color="#d5fd00"/></linearGradient>
<linearGradient id="g89" gradientUnits="userSpaceOnUse" x1="650.5" y1="803.5" x2="706.6" y2="679.9"><stop offset="0.000" stop-color="#30ff00"/><stop offset="0.297" stop-color="#78ff00"/><stop offset="0.790" stop-color="#beff00"/><stop offset="1.000" stop-color="#d5fd00"/></linearGradient>
<linearGradient id="g90" gradientUnits="userSpaceOnUse" x1="769.5" y1="811.0" x2="858.0" y2="661.1"><stop offset="0.000" stop-color="#7aff00"/><stop offset="0.375" stop-color="#beff00"/><stop offset="0.762" stop-color="#f5fa00"/><stop offset="1.000" stop-color="#fbf300"/></linearGradient>
<linearGradient id="g91" gradientUnits="userSpaceOnUse" x1="769.5" y1="811.0" x2="823.2" y2="666.8"><stop offset="0.000" stop-color="#7aff00"/><stop offset="0.375" stop-color="#beff00"/><stop offset="0.762" stop-color="#f5fa00"/><stop offset="1.000" stop-color="#fbf300"/></linearGradient>
<linearGradient id="g92" gradientUnits="userSpaceOnUse" x1="895.5" y1="822.0" x2="952.9" y2="663.7"><stop offset="0.000" stop-color="#a2ff00"/><stop offset="0.143" stop-color="#beff00"/><stop offset="0.497" stop-color="#f5fa00"/><stop offset="0.850" stop-color="#ffee00"/><stop offset="1.000" stop-color="#ffd600"/></linearGradient>
<linearGradient id="g93" gradientUnits="userSpaceOnUse" x1="895.5" y1="822.0" x2="943.7" y2="667.2"><stop offset="0.000" stop-color="#a2ff00"/><stop offset="0.143" stop-color="#beff00"/><stop offset="0.497" stop-color="#f5fa00"/><stop offset="0.850" stop-color="#ffee00"/><stop offset="1.000" stop-color="#ffd600"/></linearGradient>
<linearGradient id="g94" gradientUnits="userSpaceOnUse" x1="1029.2" y1="845.8" x2="1072.2" y2="688.9"><stop offset="0.000" stop-color="#b7ff00"/><stop offset="0.038" stop-color="#beff00"/><stop offset="0.389" stop-color="#f5fa00"/><stop offset="0.741" stop-color="#ffee00"/><stop offset="1.000" stop-color="#ffc400"/></linearGradient>
<linearGradient id="g95" gradientUnits="userSpaceOnUse" x1="1020.4" y1="884.8" x2="1063.3" y2="694.2"><stop offset="0.000" stop-color="#83ff00"/><stop offset="0.234" stop-color="#beff00"/><stop offset="0.514" stop-color="#f5fa00"/><stop offset="0.794" stop-color="#ffee00"/><stop offset="1.000" stop-color="#ffc400"/></linearGradient>
<linearGradient id="g96" gradientUnits="userSpaceOnUse" x1="394.4" y1="998.0" x2="388.5" y2="983.4"><stop offset="0.000" stop-color="#7000ff"/><stop offset="0.580" stop-color="#0000ff"/><stop offset="1.000" stop-color="#0078ff"/></linearGradient>
<linearGradient id="g97" gradientUnits="userSpaceOnUse" x1="394.4" y1="998.0" x2="499.4" y2="1039.2"><stop offset="0.000" stop-color="#7000ff"/><stop offset="0.580" stop-color="#0000ff"/><stop offset="1.000" stop-color="#0078ff"/></linearGradient>
<linearGradient id="g98" gradientUnits="userSpaceOnUse" x1="496.7" y1="965.0" x2="479.5" y2="944.1"><stop offset="0.000" stop-color="#002dff"/><stop offset="0.205" stop-color="#0096ff"/><stop offset="0.480" stop-color="#00ffff"/><stop offset="0.690" stop-color="#00ff80"/><stop offset="0.907" stop-color="#00ff00"/><stop offset="1.000" stop-color="#30ff00"/></linearGradient>
<linearGradient id="g99" gradientUnits="userSpaceOnUse" x1="496.7" y1="965.0" x2="680.1" y2="851.4"><stop offset="0.000" stop-color="#002dff"/><stop offset="0.205" stop-color="#0096ff"/><stop offset="0.480" stop-color="#00ffff"/><stop offset="0.690" stop-color="#00ff80"/><stop offset="0.907" stop-color="#00ff00"/><stop offset="1.000" stop-color="#30ff00"/></linearGradient>
<linearGradient id="g100" gradientUnits="userSpaceOnUse" x1="603.1" y1="900.0" x2="657.4" y2="765.7"><stop offset="0.000" stop-color="#00ffc4"/><stop offset="0.197" stop-color="#00ff80"/><stop offset="0.577" stop-color="#00ff00"/><stop offset="0.987" stop-color="#78ff00"/><stop offset="1.000" stop-color="#7aff00"/></linearGradient>
<linearGradient id="g101" gradientUnits="userSpaceOnUse" x1="603.1" y1="900.0" x2="647.3" y2="769.6"><stop offset="0.000" stop-color="#00ffc4"/><stop offset="0.197" stop-color="#00ff80"/><stop offset="0.577" stop-color="#00ff00"/><stop offset="0.987" stop-color="#78ff00"/><stop offset="1.000" stop-color="#7aff00"/></linearGradient>
<linearGradient id="g102" gradientUnits="userSpaceOnUse" x1="722.7" y1="929.6" x2="776.1" y2="779.5"><stop offset="0.000" stop-color="#00ffaa"/><stop offset="0.106" stop-color="#00ff80"/><stop offset="0.434" stop-color="#00ff00"/><stop offset="0.789" stop-color="#78ff00"/><stop offset="1.000" stop-color="#a2ff00"/></linearGradient>
<linearGradient id="g103" gradientUnits="userSpaceOnUse" x1="722.7" y1="929.6" x2="778.1" y2="778.8"><stop offset="0.000" stop-color="#00ffaa"/><stop offset="0.106" stop-color="#00ff80"/><stop offset="0.434" stop-color="#00ff00"/><stop offset="0.789" stop-color="#78ff00"/><stop offset="1.000" stop-color="#a2ff00"/></linearGradient>
<linearGradient id="g104" gradientUnits="userSpaceOnUse" x1="848.1" y1="950.6" x2="893.7" y2="803.7"><stop offset="0.000" stop-color="#00ff70"/><stop offset="0.299" stop-color="#00ff00"/><stop offset="0.669" stop-color="#78ff00"/><stop offset="1.000" stop-color="#b7ff00"/></linearGradient>
<linearGradient id="g105" gradientUnits="userSpaceOnUse" x1="842.5" y1="971.2" x2="886.9" y2="807.3"><stop offset="0.000" stop-color="#00ffa6"/><stop offset="0.088" stop-color="#00ff80"/><stop offset="0.387" stop-color="#00ff00"/><stop offset="0.711" stop-color="#78ff00"/><stop offset="1.000" stop-color="#b7ff00"/></linearGradient>
<linearGradient id="g106" gradientUnits="userSpaceOnUse" x1="982.2" y1="1009.0" x2="1019.3" y2="843.6"><stop offset="0.000" stop-color="#00ffa6"/><stop offset="0.088" stop-color="#00ff80"/><stop offset="0.387" stop-color="#00ff00"/><stop offset="0.711" stop-color="#78ff00"/><stop offset="1.000" stop-color="#b7ff00"/></linearGradient>
<linearGradient id="g107" gradientUnits="userSpaceOnUse" x1="969.9" y1="1062.3" x2="1011.7" y2="881.7"><stop offset="0.000" stop-color="#00dfff"/><stop offset="0.107" stop-color="#00ffff"/><stop offset="0.376" stop-color="#00ff80"/><stop offset="0.653" stop-color="#00ff00"/><stop offset="0.951" stop-color="#78ff00"/><stop offset="1.000" stop-color="#83ff00"/></linearGradient>
<linearGradient id="g108" gradientUnits="userSpaceOnUse" x1="342.3" y1="1022.0" x2="348.4" y2="1035.0"><stop offset="0.000" stop-color="#7600ff"/><stop offset="0.795" stop-color="#0000ff"/><stop offset="1.000" stop-color="#002dff"/></linearGradient>
<linearGradient id="g109" gradientUnits="userSpaceOnUse" x1="342.3" y1="1022.0" x2="340.8" y2="1017.7"><stop offset="0.000" stop-color="#7600ff"/><stop offset="0.757" stop-color="#0000ff"/><stop offset="1.000" stop-color="#0038ff"/></linearGradient>
<linearGradient id="g110" gradientUnits="userSpaceOnUse" x1="443.9" y1="983.7" x2="435.3" y2="959.5"><stop offset="0.000" stop-color="#002dff"/><stop offset="0.354" stop-color="#0096ff"/><stop offset="0.830" stop-color="#00ffff"/><stop offset="1.000" stop-color="#00ffc4"/></linearGradient>
<linearGradient id="g111" gradientUnits="userSpaceOnUse" x1="443.5" y1="982.8" x2="523.7" y2="851.5"><stop offset="0.000" stop-color="#0038ff"/><stop offset="0.330" stop-color="#0096ff"/><stop offset="0.824" stop-color="#00ffff"/><stop offset="1.000" stop-color="#00ffc4"/></linearGradient>
<linearGradient id="g112" gradientUnits="userSpaceOnUse" x1="554.4" y1="985.8" x2="590.3" y2="883.2"><stop offset="0.000" stop-color="#009cff"/><stop offset="0.648" stop-color="#00ffff"/><stop offset="1.000" stop-color="#00ffaa"/></linearGradient>
<linearGradient id="g113" gradientUnits="userSpaceOnUse" x1="554.4" y1="985.8" x2="588.5" y2="884.4"><stop offset="0.000" stop-color="#009cff"/><stop offset="0.648" stop-color="#00ffff"/><stop offset="1.000" stop-color="#00ffaa"/></linearGradient>
<linearGradient id="g114" gradientUnits="userSpaceOnUse" x1="673.8" y1="1025.0" x2="722.1" y2="901.4"><stop offset="0.000" stop-color="#009eff"/><stop offset="0.518" stop-color="#00ffff"/><stop offset="0.945" stop-color="#00ff80"/><stop offset="1.000" stop-color="#00ff70"/></linearGradient>
<linearGradient id="g115" gradientUnits="userSpaceOnUse" x1="669.0" y1="1041.3" x2="707.9" y2="909.3"><stop offset="0.000" stop-color="#007cff"/><stop offset="0.089" stop-color="#0096ff"/><stop offset="0.577" stop-color="#00ffff"/><stop offset="0.952" stop-color="#00ff80"/><stop offset="1.000" stop-color="#00ff70"/></linearGradient>
<linearGradient id="g116" gradientUnits="userSpaceOnUse" x1="800.4" y1="1080.0" x2="835.5" y2="947.3"><stop offset="0.000" stop-color="#007cff"/><stop offset="0.089" stop-color="#0096ff"/><stop offset="0.577" stop-color="#00ffff"/><stop offset="0.952" stop-color="#00ff80"/><stop offset="1.000" stop-color="#00ff70"/></linearGradient>
<linearGradient id="g117" gradientUnits="userSpaceOnUse" x1="795.7" y1="1095.9" x2="834.8" y2="965.0"><stop offset="0.000" stop-color="#005bff"/><stop offset="0.214" stop-color="#0096ff"/><stop offset="0.726" stop-color="#00ffff"/><stop offset="1.000" stop-color="#00ffa6"/></linearGradient>
<linearGradient id="g118" gradientUnits="userSpaceOnUse" x1="933.5" y1="1137.0" x2="961.0" y2="1004.6"><stop offset="0.000" stop-color="#005bff"/><stop offset="0.214" stop-color="#0096ff"/><stop offset="0.726" stop-color="#00ffff"/><stop offset="1.000" stop-color="#00ffa6"/></linearGradient>
<linearGradient id="g119" gradientUnits="userSpaceOnUse" x1="917.5" y1="1217.5" x2="948.3" y2="1062.9"><stop offset="0.000" stop-color="#3600ff"/><stop offset="0.242" stop-color="#0000ff"/><stop offset="0.701" stop-color="#0096ff"/><stop offset="1.000" stop-color="#00dfff"/></linearGradient>
<linearGradient id="g120" gradientUnits="userSpaceOnUse" x1="289.7" y1="1052.6" x2="302.6" y2="1072.8"><stop offset="0.000" stop-color="#7b00f1"/><stop offset="0.081" stop-color="#7a00ff"/><stop offset="0.783" stop-color="#0000ff"/><stop offset="1.000" stop-color="#0038ff"/></linearGradient>
<linearGradient id="g121" gradientUnits="userSpaceOnUse" x1="289.7" y1="1052.6" x2="399.3" y2="1095.6"><stop offset="0.000" stop-color="#7b00f1"/><stop offset="0.081" stop-color="#7a00ff"/><stop offset="0.783" stop-color="#0000ff"/><stop offset="1.000" stop-color="#0038ff"/></linearGradient>
<linearGradient id="g122" gradientUnits="userSpaceOnUse" x1="391.6" y1="1028.4" x2="540.6" y2="957.0"><stop offset="0.000" stop-color="#0900ff"/><stop offset="0.078" stop-color="#0000ff"/><stop offset="0.952" stop-color="#0096ff"/><stop offset="1.000" stop-color="#009cff"/></linearGradient>
<linearGradient id="g123" gradientUnits="userSpaceOnUse" x1="386.0" y1="1047.5" x2="415.8" y2="945.4"><stop offset="0.000" stop-color="#2400ff"/><stop offset="0.250" stop-color="#0000ff"/><stop offset="0.961" stop-color="#0096ff"/><stop offset="1.000" stop-color="#009cff"/></linearGradient>
<linearGradient id="g124" gradientUnits="userSpaceOnUse" x1="505.8" y1="1082.4" x2="540.3" y2="980.0"><stop offset="0.000" stop-color="#2400ff"/><stop offset="0.248" stop-color="#0000ff"/><stop offset="0.952" stop-color="#0096ff"/><stop offset="1.000" stop-color="#009eff"/></linearGradient>
<linearGradient id="g125" gradientUnits="userSpaceOnUse" x1="501.0" y1="1098.0" x2="537.0" y2="982.3"><stop offset="0.000" stop-color="#3a00ff"/><stop offset="0.349" stop-color="#0000ff"/><stop offset="0.959" stop-color="#0096ff"/><stop offset="1.000" stop-color="#009eff"/></linearGradient>
<linearGradient id="g126" gradientUnits="userSpaceOnUse" x1="625.6" y1="1136.8" x2="659.3" y2="1020.8"><stop offset="0.000" stop-color="#3a00ff"/><stop offset="0.349" stop-color="#0000ff"/><stop offset="0.959" stop-color="#0096ff"/><stop offset="1.000" stop-color="#009eff"/></linearGradient>
<linearGradient id="g127" gradientUnits="userSpaceOnUse" x1="618.8" y1="1159.5" x2="655.5" y2="1036.7"><stop offset="0.000" stop-color="#5b00ff"/><stop offset="0.518" stop-color="#0000ff"/><stop offset="1.000" stop-color="#007cff"/></linearGradient>
<linearGradient id="g128" gradientUnits="userSpaceOnUse" x1="751.7" y1="1199.3" x2="788.4" y2="1076.4"><stop offset="0.000" stop-color="#5b00ff"/><stop offset="0.518" stop-color="#0000ff"/><stop offset="1.000" stop-color="#007cff"/></linearGradient>
<linearGradient id="g129" gradientUnits="userSpaceOnUse" x1="745.0" y1="1221.2" x2="785.1" y2="1091.2"><stop offset="0.000" stop-color="#7a00ff"/><stop offset="0.663" stop-color="#0000ff"/><stop offset="1.000" stop-color="#005bff"/></linearGradient>
<linearGradient id="g130" gradientUnits="userSpaceOnUse" x1="884.4" y1="1264.2" x2="908.7" y2="1132.4"><stop offset="0.000" stop-color="#7a00ff"/><stop offset="0.663" stop-color="#0000ff"/><stop offset="1.000" stop-color="#005bff"/></linearGradient>
<linearGradient id="g131" gradientUnits="userSpaceOnUse" x1="874.8" y1="1302.7" x2="899.1" y2="1205.0"><stop offset="0.000" stop-color="#7e00d3"/><stop offset="0.390" stop-color="#7a00ff"/><stop offset="1.000" stop-color="#3600ff"/></linearGradient>
<linearGradient id="g132" gradientUnits="userSpaceOnUse" x1="236.0" y1="1082.3" x2="257.2" y2="1115.1"><stop offset="0.000" stop-color="#7d00e1"/><stop offset="0.206" stop-color="#7a00ff"/><stop offset="1.000" stop-color="#0900ff"/></linearGradient>
<linearGradient id="g133" gradientUnits="userSpaceOnUse" x1="236.0" y1="1082.3" x2="363.9" y2="990.0"><stop offset="0.000" stop-color="#7d00e1"/><stop offset="0.206" stop-color="#7a00ff"/><stop offset="1.000" stop-color="#0900ff"/></linearGradient>
<linearGradient id="g134" gradientUnits="userSpaceOnUse" x1="339.7" y1="1085.6" x2="355.1" y2="1019.9"><stop offset="0.000" stop-color="#4d00ff"/><stop offset="1.000" stop-color="#0900ff"/></linearGradient>
<linearGradient id="g135" gradientUnits="userSpaceOnUse" x1="329.4" y1="1143.2" x2="345.5" y2="1053.5"><stop offset="0.000" stop-color="#7d00e1"/><stop offset="0.255" stop-color="#7a00ff"/><stop offset="1.000" stop-color="#2400ff"/></linearGradient>
<linearGradient id="g136" gradientUnits="userSpaceOnUse" x1="455.6" y1="1165.9" x2="482.3" y2="1075.5"><stop offset="0.000" stop-color="#7d00e1"/><stop offset="0.255" stop-color="#7a00ff"/><stop offset="1.000" stop-color="#2400ff"/></linearGradient>
<linearGradient id="g137" gradientUnits="userSpaceOnUse" x1="448.3" y1="1191.2" x2="476.6" y2="1093.6"><stop offset="0.000" stop-color="#7f00c0"/><stop offset="0.494" stop-color="#7a00ff"/><stop offset="1.000" stop-color="#3a00ff"/></linearGradient>
<linearGradient id="g138" gradientUnits="userSpaceOnUse" x1="575.3" y1="1228.1" x2="602.7" y2="1130.4"><stop offset="0.000" stop-color="#7f00c0"/><stop offset="0.494" stop-color="#7a00ff"/><stop offset="1.000" stop-color="#3a00ff"/></linearGradient>
<linearGradient id="g139" gradientUnits="userSpaceOnUse" x1="568.7" y1="1249.4" x2="598.6" y2="1152.2"><stop offset="0.000" stop-color="#8200a5"/><stop offset="0.738" stop-color="#7a00ff"/><stop offset="1.000" stop-color="#5b00ff"/></linearGradient>
<linearGradient id="g140" gradientUnits="userSpaceOnUse" x1="700.7" y1="1290.0" x2="728.4" y2="1192.7"><stop offset="0.000" stop-color="#8200a5"/><stop offset="0.738" stop-color="#7a00ff"/><stop offset="1.000" stop-color="#5b00ff"/></linearGradient>
<linearGradient id="g141" gradientUnits="userSpaceOnUse" x1="699.5" y1="1293.4" x2="731.5" y2="1207.3"><stop offset="0.000" stop-color="#8200a2"/><stop offset="0.005" stop-color="#8200a2"/><stop offset="0.995" stop-color="#7a00ff"/><stop offset="1.000" stop-color="#7a00ff"/></linearGradient>
<linearGradient id="g142" gradientUnits="userSpaceOnUse" x1="832.1" y1="1342.8" x2="852.1" y2="1256.7"><stop offset="0.000" stop-color="#8200a2"/><stop offset="0.005" stop-color="#8200a2"/><stop offset="0.995" stop-color="#7a00ff"/><stop offset="1.000" stop-color="#7a00ff"/></linearGradient>
<linearGradient id="g143" gradientUnits="userSpaceOnUse" x1="832.1" y1="1342.8" x2="878.2" y2="1259.3"><stop offset="0.000" stop-color="#8200a2"/><stop offset="0.010" stop-color="#8200a2"/><stop offset="1.000" stop-color="#7e00d3"/></linearGradient>
<linearGradient id="g144" gradientUnits="userSpaceOnUse" x1="181.4" y1="1114.2" x2="256.5" y2="1180.2"><stop offset="0.000" stop-color="#7e00ce"/><stop offset="0.516" stop-color="#7a00ff"/><stop offset="1.000" stop-color="#4d00ff"/></linearGradient>
<linearGradient id="g145" gradientUnits="userSpaceOnUse" x1="172.7" y1="1145.5" x2="200.0" y2="1047.0"><stop offset="0.000" stop-color="#8200a3"/><stop offset="0.670" stop-color="#7a00ff"/><stop offset="1.000" stop-color="#4d00ff"/></linearGradient>
<linearGradient id="g146" gradientUnits="userSpaceOnUse" x1="290.2" y1="1178.0" x2="310.8" y2="1079.6"><stop offset="0.000" stop-color="#8200a3"/><stop offset="0.670" stop-color="#7a00ff"/><stop offset="1.000" stop-color="#4d00ff"/></linearGradient>
<linearGradient id="g147" gradientUnits="userSpaceOnUse" x1="284.5" y1="1196.8" x2="307.7" y2="1120.8"><stop offset="0.000" stop-color="#83009b"/><stop offset="0.241" stop-color="#8200a2"/><stop offset="1.000" stop-color="#7d00e1"/></linearGradient>
<linearGradient id="g148" gradientUnits="userSpaceOnUse" x1="403.3" y1="1233.0" x2="422.3" y2="1157.5"><stop offset="0.000" stop-color="#83009b"/><stop offset="0.241" stop-color="#8200a2"/><stop offset="1.000" stop-color="#7d00e1"/></linearGradient>
<linearGradient id="g149" gradientUnits="userSpaceOnUse" x1="400.0" y1="1242.6" x2="423.0" y2="1175.7"><stop offset="0.000" stop-color="#830099"/><stop offset="0.487" stop-color="#8200a2"/><stop offset="1.000" stop-color="#7f00c0"/></linearGradient>
<linearGradient id="g150" gradientUnits="userSpaceOnUse" x1="521.6" y1="1284.5" x2="537.3" y2="1219.0"><stop offset="0.000" stop-color="#830099"/><stop offset="0.487" stop-color="#8200a2"/><stop offset="1.000" stop-color="#7f00c0"/></linearGradient>
<linearGradient id="g151" gradientUnits="userSpaceOnUse" x1="521.6" y1="1284.5" x2="681.4" y2="1342.9"><stop offset="0.000" stop-color="#830099"/><stop offset="0.898" stop-color="#8200a2"/><stop offset="1.000" stop-color="#8200a5"/></linearGradient>
<linearGradient id="g152" gradientUnits="userSpaceOnUse" x1="644.9" y1="1321.6" x2="655.0" y2="1279.2"><stop offset="0.000" stop-color="#8200a1"/><stop offset="0.580" stop-color="#8200a2"/><stop offset="1.000" stop-color="#8200a5"/></linearGradient>
<linearGradient id="g153" gradientUnits="userSpaceOnUse" x1="776.1" y1="1373.0" x2="901.5" y2="1474.3"><stop offset="0.000" stop-color="#8200a1"/><stop offset="0.183" stop-color="#8200a2"/><stop offset="1.000" stop-color="#8100af"/></linearGradient>
<linearGradient id="g154" gradientUnits="userSpaceOnUse" x1="776.1" y1="1373.0" x2="847.1" y2="1287.1"><stop offset="0.000" stop-color="#8200a1"/><stop offset="0.183" stop-color="#8200a2"/><stop offset="1.000" stop-color="#8100af"/></linearGradient>
<linearGradient id="g155" gradientUnits="userSpaceOnUse" x1="129.4" y1="1181.3" x2="146.6" y2="1106.2"><stop offset="0.000" stop-color="#830093"/><stop offset="0.503" stop-color="#8200a2"/><stop offset="1.000" stop-color="#7e00ce"/></linearGradient>
<linearGradient id="g156" gradientUnits="userSpaceOnUse" x1="129.4" y1="1181.3" x2="186.7" y2="1102.6"><stop offset="0.000" stop-color="#830093"/><stop offset="0.989" stop-color="#8200a2"/><stop offset="1.000" stop-color="#8200a3"/></linearGradient>
<linearGradient id="g157" gradientUnits="userSpaceOnUse" x1="234.9" y1="1217.6" x2="243.9" y2="1169.4"><stop offset="0.000" stop-color="#830098"/><stop offset="0.983" stop-color="#8200a2"/><stop offset="1.000" stop-color="#8200a3"/></linearGradient>
<linearGradient id="g158" gradientUnits="userSpaceOnUse" x1="234.3" y1="1219.1" x2="252.6" y2="1173.0"><stop offset="0.000" stop-color="#830098"/><stop offset="1.000" stop-color="#83009b"/></linearGradient>
<linearGradient id="g159" gradientUnits="userSpaceOnUse" x1="346.7" y1="1263.8" x2="352.6" y2="1225.2"><stop offset="0.000" stop-color="#830098"/><stop offset="1.000" stop-color="#83009b"/></linearGradient>
<linearGradient id="g160" gradientUnits="userSpaceOnUse" x1="464.5" y1="1312.7" x2="528.8" y2="1403.7"><stop offset="0.000" stop-color="#830098"/><stop offset="1.000" stop-color="#8200a1"/></linearGradient>
<linearGradient id="g161" gradientUnits="userSpaceOnUse" x1="459.0" y1="1331.0" x2="476.9" y2="1271.2"><stop offset="0.000" stop-color="#830094"/><stop offset="1.000" stop-color="#8200a1"/></linearGradient>
<linearGradient id="g162" gradientUnits="userSpaceOnUse" x1="589.1" y1="1370.0" x2="615.4" y2="1306.4"><stop offset="0.000" stop-color="#830094"/><stop offset="1.000" stop-color="#8200a1"/></linearGradient>
<linearGradient id="g163" gradientUnits="userSpaceOnUse" x1="589.1" y1="1370.0" x2="628.7" y2="1295.1"><stop offset="0.000" stop-color="#830094"/><stop offset="1.000" stop-color="#8200a1"/></linearGradient>
<linearGradient id="g164" gradientUnits="userSpaceOnUse" x1="719.8" y1="1419.8" x2="755.7" y2="1346.4"><stop offset="0.000" stop-color="#830097"/><stop offset="0.894" stop-color="#8200a2"/><stop offset="1.000" stop-color="#8200a6"/></linearGradient>
<linearGradient id="g165" gradientUnits="userSpaceOnUse" x1="719.8" y1="1419.8" x2="748.7" y2="1352.8"><stop offset="0.000" stop-color="#830097"/><stop offset="0.894" stop-color="#8200a2"/><stop offset="1.000" stop-color="#8200a6"/></linearGradient></defs>
<rect width="1821" height="1659" fill="#fff"/>
<g filter="url(#bl)"><g><line class="gv" x1="239.2" y1="1149.1" x2="143.9" y2="179.8"/>
<line class="g" x1="239.2" y1="1149.1" x2="969.2" y2="1437.9"/>
<line class="gv" x1="356.5" y1="1099.6" x2="271.8" y2="149.5"/>
<line class="g" x1="356.5" y1="1099.6" x2="1087.2" y2="1372.9"/>
<line class="gv" x1="468.8" y1="1052.2" x2="393.9" y2="120.6"/>
<line class="g" x1="468.8" y1="1052.2" x2="1199.3" y2="1311.2"/>
<line class="gv" x1="576.4" y1="1006.8" x2="510.5" y2="93.0"/>
<line class="g" x1="576.4" y1="1006.8" x2="1306.0" y2="1252.4"/>
<line class="gv" x1="679.6" y1="963.3" x2="621.9" y2="66.6"/>
<line class="g" x1="679.6" y1="963.3" x2="1407.7" y2="1196.5"/>
<line class="gv" x1="778.6" y1="921.6" x2="728.6" y2="41.4"/>
<line class="g" x1="778.6" y1="921.6" x2="1504.6" y2="1143.1"/>
<line class="gv" x1="906.9" y1="925.2" x2="865.0" y2="39.5"/>
<line class="g" x1="210.0" y1="1227.7" x2="906.9" y2="925.2"/>
<line class="gv" x1="989.8" y1="949.9" x2="952.7" y2="50.2"/>
<line class="g" x1="292.2" y1="1261.9" x2="989.8" y2="949.9"/>
<line class="gv" x1="1075.5" y1="975.5" x2="1043.5" y2="61.3"/>
<line class="g" x1="377.5" y1="1297.5" x2="1075.5" y2="975.5"/>
<line class="gv" x1="1164.2" y1="1001.9" x2="1137.7" y2="72.8"/>
<line class="g" x1="466.3" y1="1334.5" x2="1164.2" y2="1001.9"/>
<line class="gv" x1="1255.9" y1="1029.2" x2="1235.4" y2="84.7"/>
<line class="g" x1="558.6" y1="1372.9" x2="1255.9" y2="1029.2"/>
<line class="gv" x1="1350.9" y1="1057.6" x2="1336.8" y2="97.1"/>
<line class="g" x1="654.8" y1="1413.0" x2="1350.9" y2="1057.6"/>
<line class="gv" x1="1449.3" y1="1086.9" x2="1442.1" y2="110.0"/>
<line class="g" x1="755.0" y1="1454.7" x2="1449.3" y2="1086.9"/>
<line class="g" x1="108.9" y1="989.7" x2="817.0" y2="718.8"/>
<line class="g" x1="817.0" y1="718.8" x2="1551.4" y2="910.8"/>
<line class="g" x1="86.4" y1="778.3" x2="807.0" y2="531.3"/>
<line class="g" x1="807.0" y1="531.3" x2="1551.5" y2="697.9"/>
<line class="g" x1="63.1" y1="560.1" x2="796.7" y2="338.6"/>
<line class="g" x1="796.7" y1="338.6" x2="1551.5" y2="478.2"/>
<line class="g" x1="39.0" y1="334.8" x2="786.2" y2="140.5"/>
<line class="g" x1="786.2" y1="140.5" x2="1551.6" y2="251.3"/>
<line class="b" x1="130.8" y1="1194.7" x2="25.5" y2="207.8"/>
<line class="b" x1="826.7" y1="901.3" x2="780.3" y2="29.2"/>
<line class="b" x1="25.5" y1="207.8" x2="780.3" y2="29.2"/>
<line class="b" x1="780.3" y1="29.2" x2="1551.6" y2="123.4"/>
<line class="b" x1="826.7" y1="901.3" x2="1551.4" y2="1117.3"/>
<line class="b" x1="130.8" y1="1194.7" x2="826.7" y2="901.3"/></g>
<g><polygon points="764.3,591.0 921.9,660.0 807.8,547.0" fill="url(#g1)" stroke="url(#g1)"/>
<polygon points="764.3,591.0 868.0,489.0 921.9,660.0" fill="url(#g2)" stroke="url(#g2)"/>
<path class="w" d="M764.3,591.0L868.0,489.0L921.9,660.0L807.8,547.0Z"/>
<polygon points="921.9,660.0 981.4,452.0 1020.9,272.8" fill="url(#g3)" stroke="url(#g3)"/>
<polygon points="868.0,489.0 981.4,452.0 921.9,660.0" fill="url(#g4)" stroke="url(#g4)"/>
<path class="w" d="M868.0,489.0L981.4,452.0L1020.9,272.8L921.9,660.0Z"/>
<polygon points="981.4,452.0 1140.3,163.8 1020.9,272.8" fill="url(#g5)" stroke="url(#g5)"/>
<polygon points="981.4,452.0 1102.5,452.0 1140.3,163.8" fill="url(#g6)" stroke="url(#g6)"/>
<path class="w" d="M981.4,452.0L1102.5,452.0L1140.3,163.8L1020.9,272.8Z"/>
<polygon points="1102.5,452.0 1268.8,92.3 1140.3,163.8" fill="url(#g7)" stroke="url(#g7)"/>
<polygon points="1102.5,452.0 1230.3,459.0 1268.8,92.3" fill="url(#g8)" stroke="url(#g8)"/>
<path class="w" d="M1102.5,452.0L1230.3,459.0L1268.8,92.3L1140.3,163.8Z"/>
<polygon points="1230.3,459.0 1406.7,121.3 1268.8,92.3" fill="url(#g9)" stroke="url(#g9)"/>
<polygon points="1230.3,459.0 1364.2,422.0 1406.7,121.3" fill="url(#g10)" stroke="url(#g10)"/>
<path class="w" d="M1230.3,459.0L1364.2,422.0L1406.7,121.3L1268.8,92.3Z"/>
<polygon points="1364.2,422.0 1551.6,211.5 1406.7,121.3" fill="url(#g11)" stroke="url(#g11)"/>
<polygon points="1364.2,422.0 1506.8,485.6 1551.6,211.5" fill="url(#g12)" stroke="url(#g12)"/>
<path class="w" d="M1364.2,422.0L1506.8,485.6L1551.6,211.5L1406.7,121.3Z"/>
<polygon points="725.1,718.0 868.0,489.0 764.3,591.0" fill="url(#g13)" stroke="url(#g13)"/>
<polygon points="725.1,718.0 826.5,598.2 868.0,489.0" fill="url(#g14)" stroke="url(#g14)"/>
<path class="w" d="M725.1,718.0L826.5,598.2L868.0,489.0L764.3,591.0Z"/>
<polygon points="826.5,598.2 981.4,452.0 868.0,489.0" fill="url(#g15)" stroke="url(#g15)"/>
<polygon points="826.5,598.2 934.8,464.7 981.4,452.0" fill="url(#g16)" stroke="url(#g16)"/>
<path class="w" d="M826.5,598.2L934.8,464.7L981.4,452.0L868.0,489.0Z"/>
<polygon points="934.8,464.7 1102.5,452.0 981.4,452.0" fill="url(#g17)" stroke="url(#g17)"/>
<polygon points="934.8,464.7 1055.4,448.0 1102.5,452.0" fill="url(#g18)" stroke="url(#g18)"/>
<path class="w" d="M934.8,464.7L1055.4,448.0L1102.5,452.0L981.4,452.0Z"/>
<polygon points="1055.4,448.0 1230.3,459.0 1102.5,452.0" fill="url(#g19)" stroke="url(#g19)"/>
<polygon points="1055.4,448.0 1183.6,461.5 1230.3,459.0" fill="url(#g20)" stroke="url(#g20)"/>
<path class="w" d="M1055.4,448.0L1183.6,461.5L1230.3,459.0L1102.5,452.0Z"/>
<polygon points="1183.6,461.5 1364.2,422.0 1230.3,459.0" fill="url(#g21)" stroke="url(#g21)"/>
<polygon points="1183.6,461.5 1318.3,460.3 1364.2,422.0" fill="url(#g22)" stroke="url(#g22)"/>
<path class="w" d="M1183.6,461.5L1318.3,460.3L1364.2,422.0L1230.3,459.0Z"/>
<polygon points="1318.3,460.3 1506.8,485.6 1364.2,422.0" fill="url(#g23)" stroke="url(#g23)"/>
<polygon points="1318.3,460.3 1461.0,491.7 1506.8,485.6" fill="url(#g24)" stroke="url(#g24)"/>
<path class="w" d="M1318.3,460.3L1461.0,491.7L1506.8,485.6L1364.2,422.0Z"/>
<polygon points="681.0,770.0 826.5,598.2 725.1,718.0" fill="url(#g25)" stroke="url(#g25)"/>
<polygon points="681.0,770.0 785.4,718.6 826.5,598.2" fill="url(#g26)" stroke="url(#g26)"/>
<path class="w" d="M681.0,770.0L785.4,718.6L826.5,598.2L725.1,718.0Z"/>
<polygon points="785.4,718.6 934.8,464.7 826.5,598.2" fill="url(#g27)" stroke="url(#g27)"/>
<polygon points="785.4,718.6 890.9,555.7 934.8,464.7" fill="url(#g28)" stroke="url(#g28)"/>
<path class="w" d="M785.4,718.6L890.9,555.7L934.8,464.7L826.5,598.2Z"/>
<polygon points="890.9,555.7 1055.4,448.0 934.8,464.7" fill="url(#g29)" stroke="url(#g29)"/>
<polygon points="890.9,555.7 1009.8,514.5 1055.4,448.0" fill="url(#g30)" stroke="url(#g30)"/>
<path class="w" d="M890.9,555.7L1009.8,514.5L1055.4,448.0L934.8,464.7Z"/>
<polygon points="1009.8,514.5 1183.6,461.5 1055.4,448.0" fill="url(#g31)" stroke="url(#g31)"/>
<polygon points="1009.8,514.5 1137.7,529.0 1183.6,461.5" fill="url(#g32)" stroke="url(#g32)"/>
<path class="w" d="M1009.8,514.5L1137.7,529.0L1183.6,461.5L1055.4,448.0Z"/>
<polygon points="1137.7,529.0 1318.3,460.3 1183.6,461.5" fill="url(#g33)" stroke="url(#g33)"/>
<polygon points="1137.7,529.0 1271.9,517.0 1318.3,460.3" fill="url(#g34)" stroke="url(#g34)"/>
<path class="w" d="M1137.7,529.0L1271.9,517.0L1318.3,460.3L1183.6,461.5Z"/>
<polygon points="1271.9,517.0 1461.0,491.7 1318.3,460.3" fill="url(#g35)" stroke="url(#g35)"/>
<polygon points="1271.9,517.0 1413.6,456.0 1461.0,491.7" fill="url(#g36)" stroke="url(#g36)"/>
<path class="w" d="M1271.9,517.0L1413.6,456.0L1461.0,491.7L1318.3,460.3Z"/>
<polygon points="636.2,821.0 785.4,718.6 681.0,770.0" fill="url(#g37)" stroke="url(#g37)"/>
<polygon points="636.2,821.0 741.8,800.4 785.4,718.6" fill="url(#g38)" stroke="url(#g38)"/>
<path class="w" d="M636.2,821.0L741.8,800.4L785.4,718.6L681.0,770.0Z"/>
<polygon points="741.8,800.4 890.9,555.7 785.4,718.6" fill="url(#g39)" stroke="url(#g39)"/>
<polygon points="741.8,800.4 855.9,832.7 890.9,555.7" fill="url(#g40)" stroke="url(#g40)"/>
<path class="w" d="M741.8,800.4L855.9,832.7L890.9,555.7L785.4,718.6Z"/>
<polygon points="855.9,832.7 1009.8,514.5 890.9,555.7" fill="url(#g41)" stroke="url(#g41)"/>
<polygon points="855.9,832.7 976.5,886.9 1009.8,514.5" fill="url(#g42)" stroke="url(#g42)"/>
<path class="w" d="M855.9,832.7L976.5,886.9L1009.8,514.5L890.9,555.7Z"/>
<polygon points="976.5,886.9 1137.7,529.0 1009.8,514.5" fill="url(#g43)" stroke="url(#g43)"/>
<polygon points="976.5,886.9 1099.9,860.1 1137.7,529.0" fill="url(#g44)" stroke="url(#g44)"/>
<path class="w" d="M976.5,886.9L1099.9,860.1L1137.7,529.0L1009.8,514.5Z"/>
<polygon points="1099.9,860.1 1271.9,517.0 1137.7,529.0" fill="url(#g45)" stroke="url(#g45)"/>
<polygon points="1099.9,860.1 1230.5,820.9 1271.9,517.0" fill="url(#g46)" stroke="url(#g46)"/>
<path class="w" d="M1099.9,860.1L1230.5,820.9L1271.9,517.0L1137.7,529.0Z"/>
<polygon points="1230.5,820.9 1413.6,456.0 1271.9,517.0" fill="url(#g47)" stroke="url(#g47)"/>
<polygon points="1230.5,820.9 1369.3,760.0 1413.6,456.0" fill="url(#g48)" stroke="url(#g48)"/>
<path class="w" d="M1230.5,820.9L1369.3,760.0L1413.6,456.0L1271.9,517.0Z"/>
<polygon points="590.0,863.0 741.8,800.4 636.2,821.0" fill="url(#g49)" stroke="url(#g49)"/>
<polygon points="590.0,863.0 693.7,819.4 741.8,800.4" fill="url(#g50)" stroke="url(#g50)"/>
<path class="w" d="M590.0,863.0L693.7,819.4L741.8,800.4L636.2,821.0Z"/>
<polygon points="693.7,819.4 855.9,832.7 741.8,800.4" fill="#00d9ff" stroke="#00d9ff"/>
<polygon points="693.7,819.4 809.0,872.5 855.9,832.7" fill="url(#g51)" stroke="url(#g51)"/>
<path class="w" d="M693.7,819.4L809.0,872.5L855.9,832.7L741.8,800.4Z"/>
<polygon points="809.0,872.5 976.5,886.9 855.9,832.7" fill="url(#g52)" stroke="url(#g52)"/>
<polygon points="809.0,872.5 929.1,917.8 976.5,886.9" fill="url(#g53)" stroke="url(#g53)"/>
<path class="w" d="M809.0,872.5L929.1,917.8L976.5,886.9L855.9,832.7Z"/>
<polygon points="929.1,917.8 1099.9,860.1 976.5,886.9" fill="url(#g54)" stroke="url(#g54)"/>
<polygon points="929.1,917.8 1054.6,954.9 1099.9,860.1" fill="url(#g55)" stroke="url(#g55)"/>
<path class="w" d="M929.1,917.8L1054.6,954.9L1099.9,860.1L976.5,886.9Z"/>
<polygon points="1054.6,954.9 1230.5,820.9 1099.9,860.1" fill="url(#g56)" stroke="url(#g56)"/>
<polygon points="1054.6,954.9 1186.5,994.0 1230.5,820.9" fill="url(#g57)" stroke="url(#g57)"/>
<path class="w" d="M1054.6,954.9L1186.5,994.0L1230.5,820.9L1099.9,860.1Z"/>
<polygon points="1186.5,994.0 1369.3,760.0 1230.5,820.9" fill="url(#g58)" stroke="url(#g58)"/>
<polygon points="1186.5,994.0 1325.4,1040.0 1369.3,760.0" fill="url(#g59)" stroke="url(#g59)"/>
<path class="w" d="M1186.5,994.0L1325.4,1040.0L1369.3,760.0L1230.5,820.9Z"/>
<polygon points="543.3,908.0 693.7,819.4 590.0,863.0" fill="url(#g60)" stroke="url(#g60)"/>
<polygon points="543.3,908.0 644.0,828.7 693.7,819.4" fill="url(#g61)" stroke="url(#g61)"/>
<path class="w" d="M543.3,908.0L644.0,828.7L693.7,819.4L590.0,863.0Z"/>
<polygon points="644.0,828.7 809.0,872.5 693.7,819.4" fill="url(#g62)" stroke="url(#g62)"/>
<polygon points="644.0,828.7 752.3,759.8 809.0,872.5" fill="url(#g63)" stroke="url(#g63)"/>
<path class="w" d="M644.0,828.7L752.3,759.8L809.0,872.5L693.7,819.4Z"/>
<polygon points="752.3,759.8 929.1,917.8 809.0,872.5" fill="url(#g64)" stroke="url(#g64)"/>
<polygon points="752.3,759.8 870.4,739.8 929.1,917.8" fill="url(#g65)" stroke="url(#g65)"/>
<path class="w" d="M752.3,759.8L870.4,739.8L929.1,917.8L809.0,872.5Z"/>
<polygon points="870.4,739.8 1054.6,954.9 929.1,917.8" fill="url(#g66)" stroke="url(#g66)"/>
<polygon points="870.4,739.8 995.4,718.5 1054.6,954.9" fill="url(#g67)" stroke="url(#g67)"/>
<path class="w" d="M870.4,739.8L995.4,718.5L1054.6,954.9L929.1,917.8Z"/>
<polygon points="995.4,718.5 1186.5,994.0 1054.6,954.9" fill="url(#g68)" stroke="url(#g68)"/>
<polygon points="995.4,718.5 1128.8,718.7 1186.5,994.0" fill="url(#g69)" stroke="url(#g69)"/>
<path class="w" d="M995.4,718.5L1128.8,718.7L1186.5,994.0L1054.6,954.9Z"/>
<polygon points="1128.8,718.7 1325.4,1040.0 1186.5,994.0" fill="url(#g70)" stroke="url(#g70)"/>
<polygon points="1128.8,718.7 1270.7,743.3 1325.4,1040.0" fill="url(#g71)" stroke="url(#g71)"/>
<path class="w" d="M1128.8,718.7L1270.7,743.3L1325.4,1040.0L1186.5,994.0Z"/>
<polygon points="495.4,948.0 644.0,828.7 543.3,908.0" fill="url(#g72)" stroke="url(#g72)"/>
<polygon points="495.4,948.0 595.7,873.4 644.0,828.7" fill="url(#g73)" stroke="url(#g73)"/>
<path class="w" d="M495.4,948.0L595.7,873.4L644.0,828.7L543.3,908.0Z"/>
<polygon points="595.7,873.4 752.3,759.8 644.0,828.7" fill="url(#g74)" stroke="url(#g74)"/>
<polygon points="595.7,873.4 700.2,754.4 752.3,759.8" fill="url(#g75)" stroke="url(#g75)"/>
<path class="w" d="M595.7,873.4L700.2,754.4L752.3,759.8L644.0,828.7Z"/>
<polygon points="700.2,754.4 870.4,739.8 752.3,759.8" fill="url(#g76)" stroke="url(#g76)"/>
<polygon points="700.2,754.4 818.1,730.5 870.4,739.8" fill="url(#g77)" stroke="url(#g77)"/>
<path class="w" d="M700.2,754.4L818.1,730.5L870.4,739.8L752.3,759.8Z"/>
<polygon points="818.1,730.5 995.4,718.5 870.4,739.8" fill="url(#g78)" stroke="url(#g78)"/>
<polygon points="818.1,730.5 943.3,711.5 995.4,718.5" fill="url(#g79)" stroke="url(#g79)"/>
<path class="w" d="M818.1,730.5L943.3,711.5L995.4,718.5L870.4,739.8Z"/>
<polygon points="943.3,711.5 1128.8,718.7 995.4,718.5" fill="url(#g80)" stroke="url(#g80)"/>
<polygon points="943.3,711.5 1076.9,708.7 1128.8,718.7" fill="url(#g81)" stroke="url(#g81)"/>
<path class="w" d="M943.3,711.5L1076.9,708.7L1128.8,718.7L995.4,718.5Z"/>
<polygon points="1076.9,708.7 1270.7,743.3 1128.8,718.7" fill="url(#g82)" stroke="url(#g82)"/>
<polygon points="1076.9,708.7 1219.2,729.2 1270.7,743.3" fill="url(#g83)" stroke="url(#g83)"/>
<path class="w" d="M1076.9,708.7L1219.2,729.2L1270.7,743.3L1128.8,718.7Z"/>
<polygon points="445.7,977.0 595.7,873.4 495.4,948.0" fill="url(#g84)" stroke="url(#g84)"/>
<polygon points="445.7,977.0 546.6,918.8 595.7,873.4" fill="url(#g85)" stroke="url(#g85)"/>
<path class="w" d="M445.7,977.0L546.6,918.8L595.7,873.4L495.4,948.0Z"/>
<polygon points="546.6,918.8 700.2,754.4 595.7,873.4" fill="url(#g86)" stroke="url(#g86)"/>
<polygon points="546.6,918.8 650.5,803.5 700.2,754.4" fill="url(#g87)" stroke="url(#g87)"/>
<path class="w" d="M546.6,918.8L650.5,803.5L700.2,754.4L595.7,873.4Z"/>
<polygon points="650.5,803.5 818.1,730.5 700.2,754.4" fill="url(#g88)" stroke="url(#g88)"/>
<polygon points="650.5,803.5 769.5,811.0 818.1,730.5" fill="url(#g89)" stroke="url(#g89)"/>
<path class="w" d="M650.5,803.5L769.5,811.0L818.1,730.5L700.2,754.4Z"/>
<polygon points="769.5,811.0 943.3,711.5 818.1,730.5" fill="url(#g90)" stroke="url(#g90)"/>
<polygon points="769.5,811.0 895.5,822.0 943.3,711.5" fill="url(#g91)" stroke="url(#g91)"/>
<path class="w" d="M769.5,811.0L895.5,822.0L943.3,711.5L818.1,730.5Z"/>
<polygon points="895.5,822.0 1076.9,708.7 943.3,711.5" fill="url(#g92)" stroke="url(#g92)"/>
<polygon points="895.5,822.0 1029.2,845.8 1076.9,708.7" fill="url(#g93)" stroke="url(#g93)"/>
<path class="w" d="M895.5,822.0L1029.2,845.8L1076.9,708.7L943.3,711.5Z"/>
<polygon points="1029.2,845.8 1219.2,729.2 1076.9,708.7" fill="url(#g94)" stroke="url(#g94)"/>
<polygon points="1029.2,845.8 1171.9,918.8 1219.2,729.2" fill="url(#g95)" stroke="url(#g95)"/>
<path class="w" d="M1029.2,845.8L1171.9,918.8L1219.2,729.2L1076.9,708.7Z"/>
<polygon points="394.4,998.0 546.6,918.8 445.7,977.0" fill="url(#g96)" stroke="url(#g96)"/>
<polygon points="394.4,998.0 496.7,965.0 546.6,918.8" fill="url(#g97)" stroke="url(#g97)"/>
<path class="w" d="M394.4,998.0L496.7,965.0L546.6,918.8L445.7,977.0Z"/>
<polygon points="496.7,965.0 650.5,803.5 546.6,918.8" fill="url(#g98)" stroke="url(#g98)"/>
<polygon points="496.7,965.0 603.1,900.0 650.5,803.5" fill="url(#g99)" stroke="url(#g99)"/>
<path class="w" d="M496.7,965.0L603.1,900.0L650.5,803.5L546.6,918.8Z"/>
<polygon points="603.1,900.0 769.5,811.0 650.5,803.5" fill="url(#g100)" stroke="url(#g100)"/>
<polygon points="603.1,900.0 722.7,929.6 769.5,811.0" fill="url(#g101)" stroke="url(#g101)"/>
<path class="w" d="M603.1,900.0L722.7,929.6L769.5,811.0L650.5,803.5Z"/>
<polygon points="722.7,929.6 895.5,822.0 769.5,811.0" fill="url(#g102)" stroke="url(#g102)"/>
<polygon points="722.7,929.6 848.1,950.6 895.5,822.0" fill="url(#g103)" stroke="url(#g103)"/>
<path class="w" d="M722.7,929.6L848.1,950.6L895.5,822.0L769.5,811.0Z"/>
<polygon points="848.1,950.6 1029.2,845.8 895.5,822.0" fill="url(#g104)" stroke="url(#g104)"/>
<polygon points="848.1,950.6 982.2,1009.0 1029.2,845.8" fill="url(#g105)" stroke="url(#g105)"/>
<path class="w" d="M848.1,950.6L982.2,1009.0L1029.2,845.8L895.5,822.0Z"/>
<polygon points="982.2,1009.0 1171.9,918.8 1029.2,845.8" fill="url(#g106)" stroke="url(#g106)"/>
<polygon points="982.2,1009.0 1124.3,1098.0 1171.9,918.8" fill="url(#g107)" stroke="url(#g107)"/>
<path class="w" d="M982.2,1009.0L1124.3,1098.0L1171.9,918.8L1029.2,845.8Z"/>
<polygon points="342.3,1022.0 496.7,965.0 394.4,998.0" fill="url(#g108)" stroke="url(#g108)"/>
<polygon points="342.3,1022.0 443.5,982.8 496.7,965.0" fill="url(#g109)" stroke="url(#g109)"/>
<path class="w" d="M342.3,1022.0L443.5,982.8L496.7,965.0L394.4,998.0Z"/>
<polygon points="443.5,982.8 603.1,900.0 496.7,965.0" fill="url(#g110)" stroke="url(#g110)"/>
<polygon points="443.5,982.8 554.4,985.8 603.1,900.0" fill="url(#g111)" stroke="url(#g111)"/>
<path class="w" d="M443.5,982.8L554.4,985.8L603.1,900.0L496.7,965.0Z"/>
<polygon points="554.4,985.8 722.7,929.6 603.1,900.0" fill="url(#g112)" stroke="url(#g112)"/>
<polygon points="554.4,985.8 673.8,1025.0 722.7,929.6" fill="url(#g113)" stroke="url(#g113)"/>
<path class="w" d="M554.4,985.8L673.8,1025.0L722.7,929.6L603.1,900.0Z"/>
<polygon points="673.8,1025.0 848.1,950.6 722.7,929.6" fill="url(#g114)" stroke="url(#g114)"/>
<polygon points="673.8,1025.0 800.4,1080.0 848.1,950.6" fill="url(#g115)" stroke="url(#g115)"/>
<path class="w" d="M673.8,1025.0L800.4,1080.0L848.1,950.6L722.7,929.6Z"/>
<polygon points="800.4,1080.0 982.2,1009.0 848.1,950.6" fill="url(#g116)" stroke="url(#g116)"/>
<polygon points="800.4,1080.0 933.5,1137.0 982.2,1009.0" fill="url(#g117)" stroke="url(#g117)"/>
<path class="w" d="M800.4,1080.0L933.5,1137.0L982.2,1009.0L848.1,950.6Z"/>
<polygon points="933.5,1137.0 1124.3,1098.0 982.2,1009.0" fill="url(#g118)" stroke="url(#g118)"/>
<polygon points="933.5,1137.0 1075.6,1249.0 1124.3,1098.0" fill="url(#g119)" stroke="url(#g119)"/>
<path class="w" d="M933.5,1137.0L1075.6,1249.0L1124.3,1098.0L982.2,1009.0Z"/>
<polygon points="289.7,1052.6 443.5,982.8 342.3,1022.0" fill="url(#g120)" stroke="url(#g120)"/>
<polygon points="289.7,1052.6 391.6,1028.4 443.5,982.8" fill="url(#g121)" stroke="url(#g121)"/>
<path class="w" d="M289.7,1052.6L391.6,1028.4L443.5,982.8L342.3,1022.0Z"/>
<polygon points="391.6,1028.4 554.4,985.8 443.5,982.8" fill="url(#g122)" stroke="url(#g122)"/>
<polygon points="391.6,1028.4 505.8,1082.4 554.4,985.8" fill="url(#g123)" stroke="url(#g123)"/>
<path class="w" d="M391.6,1028.4L505.8,1082.4L554.4,985.8L443.5,982.8Z"/>
<polygon points="505.8,1082.4 673.8,1025.0 554.4,985.8" fill="url(#g124)" stroke="url(#g124)"/>
<polygon points="505.8,1082.4 625.6,1136.8 673.8,1025.0" fill="url(#g125)" stroke="url(#g125)"/>
<path class="w" d="M505.8,1082.4L625.6,1136.8L673.8,1025.0L554.4,985.8Z"/>
<polygon points="625.6,1136.8 800.4,1080.0 673.8,1025.0" fill="url(#g126)" stroke="url(#g126)"/>
<polygon points="625.6,1136.8 751.7,1199.3 800.4,1080.0" fill="url(#g127)" stroke="url(#g127)"/>
<path class="w" d="M625.6,1136.8L751.7,1199.3L800.4,1080.0L673.8,1025.0Z"/>
<polygon points="751.7,1199.3 933.5,1137.0 800.4,1080.0" fill="url(#g128)" stroke="url(#g128)"/>
<polygon points="751.7,1199.3 884.4,1264.2 933.5,1137.0" fill="url(#g129)" stroke="url(#g129)"/>
<path class="w" d="M751.7,1199.3L884.4,1264.2L933.5,1137.0L800.4,1080.0Z"/>
<polygon points="884.4,1264.2 1075.6,1249.0 933.5,1137.0" fill="url(#g130)" stroke="url(#g130)"/>
<polygon points="884.4,1264.2 1024.4,1340.0 1075.6,1249.0" fill="url(#g131)" stroke="url(#g131)"/>
<path class="w" d="M884.4,1264.2L1024.4,1340.0L1075.6,1249.0L933.5,1137.0Z"/>
<polygon points="236.0,1082.3 391.6,1028.4 289.7,1052.6" fill="url(#g132)" stroke="url(#g132)"/>
<polygon points="236.0,1082.3 339.7,1085.6 391.6,1028.4" fill="url(#g133)" stroke="url(#g133)"/>
<path class="w" d="M236.0,1082.3L339.7,1085.6L391.6,1028.4L289.7,1052.6Z"/>
<polygon points="339.7,1085.6 505.8,1082.4 391.6,1028.4" fill="url(#g134)" stroke="url(#g134)"/>
<polygon points="339.7,1085.6 455.6,1165.9 505.8,1082.4" fill="url(#g135)" stroke="url(#g135)"/>
<path class="w" d="M339.7,1085.6L455.6,1165.9L505.8,1082.4L391.6,1028.4Z"/>
<polygon points="455.6,1165.9 625.6,1136.8 505.8,1082.4" fill="url(#g136)" stroke="url(#g136)"/>
<polygon points="455.6,1165.9 575.3,1228.1 625.6,1136.8" fill="url(#g137)" stroke="url(#g137)"/>
<path class="w" d="M455.6,1165.9L575.3,1228.1L625.6,1136.8L505.8,1082.4Z"/>
<polygon points="575.3,1228.1 751.7,1199.3 625.6,1136.8" fill="url(#g138)" stroke="url(#g138)"/>
<polygon points="575.3,1228.1 700.7,1290.0 751.7,1199.3" fill="url(#g139)" stroke="url(#g139)"/>
<path class="w" d="M575.3,1228.1L700.7,1290.0L751.7,1199.3L625.6,1136.8Z"/>
<polygon points="700.7,1290.0 884.4,1264.2 751.7,1199.3" fill="url(#g140)" stroke="url(#g140)"/>
<polygon points="700.7,1290.0 832.1,1342.8 884.4,1264.2" fill="url(#g141)" stroke="url(#g141)"/>
<path class="w" d="M700.7,1290.0L832.1,1342.8L884.4,1264.2L751.7,1199.3Z"/>
<polygon points="832.1,1342.8 1024.4,1340.0 884.4,1264.2" fill="url(#g142)" stroke="url(#g142)"/>
<polygon points="832.1,1342.8 970.4,1389.0 1024.4,1340.0" fill="url(#g143)" stroke="url(#g143)"/>
<path class="w" d="M832.1,1342.8L970.4,1389.0L1024.4,1340.0L884.4,1264.2Z"/>
<polygon points="181.4,1114.2 339.7,1085.6 236.0,1082.3" fill="url(#g144)" stroke="url(#g144)"/>
<polygon points="181.4,1114.2 290.2,1178.0 339.7,1085.6" fill="url(#g145)" stroke="url(#g145)"/>
<path class="w" d="M181.4,1114.2L290.2,1178.0L339.7,1085.6L236.0,1082.3Z"/>
<polygon points="290.2,1178.0 455.6,1165.9 339.7,1085.6" fill="url(#g146)" stroke="url(#g146)"/>
<polygon points="290.2,1178.0 403.3,1233.0 455.6,1165.9" fill="url(#g147)" stroke="url(#g147)"/>
<path class="w" d="M290.2,1178.0L403.3,1233.0L455.6,1165.9L339.7,1085.6Z"/>
<polygon points="403.3,1233.0 575.3,1228.1 455.6,1165.9" fill="url(#g148)" stroke="url(#g148)"/>
<polygon points="403.3,1233.0 521.6,1284.5 575.3,1228.1" fill="url(#g149)" stroke="url(#g149)"/>
<path class="w" d="M403.3,1233.0L521.6,1284.5L575.3,1228.1L455.6,1165.9Z"/>
<polygon points="521.6,1284.5 700.7,1290.0 575.3,1228.1" fill="url(#g150)" stroke="url(#g150)"/>
<polygon points="521.6,1284.5 644.9,1321.6 700.7,1290.0" fill="url(#g151)" stroke="url(#g151)"/>
<path class="w" d="M521.6,1284.5L644.9,1321.6L700.7,1290.0L575.3,1228.1Z"/>
<polygon points="644.9,1321.6 832.1,1342.8 700.7,1290.0" fill="url(#g152)" stroke="url(#g152)"/>
<polygon points="644.9,1321.6 776.1,1373.0 832.1,1342.8" fill="#8200a1" stroke="#8200a1"/>
<path class="w" d="M644.9,1321.6L776.1,1373.0L832.1,1342.8L700.7,1290.0Z"/>
<polygon points="776.1,1373.0 970.4,1389.0 832.1,1342.8" fill="url(#g153)" stroke="url(#g153)"/>
<polygon points="776.1,1373.0 914.6,1424.3 970.4,1389.0" fill="url(#g154)" stroke="url(#g154)"/>
<path class="w" d="M776.1,1373.0L914.6,1424.3L970.4,1389.0L832.1,1342.8Z"/>
<polygon points="129.4,1181.3 290.2,1178.0 181.4,1114.2" fill="url(#g155)" stroke="url(#g155)"/>
<polygon points="129.4,1181.3 234.9,1217.6 290.2,1178.0" fill="url(#g156)" stroke="url(#g156)"/>
<path class="w" d="M129.4,1181.3L234.9,1217.6L290.2,1178.0L181.4,1114.2Z"/>
<polygon points="234.9,1217.6 403.3,1233.0 290.2,1178.0" fill="url(#g157)" stroke="url(#g157)"/>
<polygon points="234.9,1217.6 346.7,1263.8 403.3,1233.0" fill="url(#g158)" stroke="url(#g158)"/>
<path class="w" d="M234.9,1217.6L346.7,1263.8L403.3,1233.0L290.2,1178.0Z"/>
<polygon points="346.7,1263.8 521.6,1284.5 403.3,1233.0" fill="url(#g159)" stroke="url(#g159)"/>
<polygon points="346.7,1263.8 464.5,1312.7 521.6,1284.5" fill="#830098" stroke="#830098"/>
<path class="w" d="M346.7,1263.8L464.5,1312.7L521.6,1284.5L403.3,1233.0Z"/>
<polygon points="464.5,1312.7 644.9,1321.6 521.6,1284.5" fill="url(#g160)" stroke="url(#g160)"/>
<polygon points="464.5,1312.7 589.1,1370.0 644.9,1321.6" fill="url(#g161)" stroke="url(#g161)"/>
<path class="w" d="M464.5,1312.7L589.1,1370.0L644.9,1321.6L521.6,1284.5Z"/>
<polygon points="589.1,1370.0 776.1,1373.0 644.9,1321.6" fill="url(#g162)" stroke="url(#g162)"/>
<polygon points="589.1,1370.0 719.8,1419.8 776.1,1373.0" fill="url(#g163)" stroke="url(#g163)"/>
<path class="w" d="M589.1,1370.0L719.8,1419.8L776.1,1373.0L644.9,1321.6Z"/>
<polygon points="719.8,1419.8 914.6,1424.3 776.1,1373.0" fill="url(#g164)" stroke="url(#g164)"/>
<polygon points="719.8,1419.8 858.3,1476.0 914.6,1424.3" fill="url(#g165)" stroke="url(#g165)"/>
<path class="w" d="M719.8,1419.8L858.3,1476.0L914.6,1424.3L776.1,1373.0Z"/>
<line class="ar" x1="1235.8" y1="111.0" x2="1236.5" y2="176.0"/>
<line class="ar" x1="1336.4" y1="111.0" x2="1337.5" y2="172.0"/>
<line class="ar" x1="1441.5" y1="128.0" x2="1442.3" y2="206.0"/>
<line class="ar" x1="1138.8" y1="162.0" x2="1140.5" y2="223.0"/>
<line class="ar" x1="1120.0" y1="189.5" x2="1195.0" y2="200.0"/>
<line class="ar" x1="1501.4" y1="243.9" x2="1542.2" y2="249.5"/></g>
<g><polygon points="130.2,1196.3 858.8,1500.1 860.3,1496.5 131.5,1193.1" fill="#1c1c1c" stroke="none"/>
<polygon points="860.5,1500.0 1552.1,1118.6 1550.7,1116.0 858.6,1496.5" fill="#1c1c1c" stroke="none"/>
<circle cx="859.5" cy="1498.3" r="1.95" fill="#1c1c1c"/>
<polygon points="1552.9,1117.3 1553.4,123.4 1549.7,123.4 1549.9,1117.3" fill="#3a3a3a" stroke="none"/>
<line class="t" x1="130.8" y1="1194.7" x2="130.8" y2="1216.7"/>
<line class="t" x1="170.0" y1="1211.1" x2="170.0" y2="1222.1"/>
<line class="t" x1="210.0" y1="1227.7" x2="210.0" y2="1249.7"/>
<line class="t" x1="250.7" y1="1244.7" x2="250.7" y2="1255.7"/>
<line class="t" x1="292.2" y1="1261.9" x2="292.2" y2="1283.9"/>
<line class="t" x1="334.4" y1="1279.5" x2="334.4" y2="1290.5"/>
<line class="t" x1="377.5" y1="1297.5" x2="377.5" y2="1319.5"/>
<line class="t" x1="421.5" y1="1315.8" x2="421.5" y2="1326.8"/>
<line class="t" x1="466.3" y1="1334.5" x2="466.3" y2="1356.5"/>
<line class="t" x1="512.0" y1="1353.5" x2="512.0" y2="1364.5"/>
<line class="t" x1="558.6" y1="1372.9" x2="558.6" y2="1394.9"/>
<line class="t" x1="606.2" y1="1392.7" x2="606.2" y2="1403.7"/>
<line class="t" x1="654.8" y1="1413.0" x2="654.8" y2="1435.0"/>
<line class="t" x1="704.4" y1="1433.6" x2="704.4" y2="1444.6"/>
<line class="t" x1="755.0" y1="1454.7" x2="755.0" y2="1476.7"/>
<line class="t" x1="806.7" y1="1476.3" x2="806.7" y2="1487.3"/>
<line class="t" x1="859.5" y1="1498.3" x2="859.5" y2="1520.3"/>
<line class="t" x1="907.9" y1="1471.6" x2="907.9" y2="1482.6"/>
<line class="t" x1="969.2" y1="1437.9" x2="969.2" y2="1459.9"/>
<line class="t" x1="1029.0" y1="1405.0" x2="1029.0" y2="1416.0"/>
<line class="t" x1="1087.2" y1="1372.9" x2="1087.2" y2="1394.9"/>
<line class="t" x1="1144.0" y1="1341.6" x2="1144.0" y2="1352.6"/>
<line class="t" x1="1199.3" y1="1311.2" x2="1199.3" y2="1333.2"/>
<line class="t" x1="1253.3" y1="1281.4" x2="1253.3" y2="1292.4"/>
<line class="t" x1="1306.0" y1="1252.4" x2="1306.0" y2="1274.4"/>
<line class="t" x1="1357.4" y1="1224.1" x2="1357.4" y2="1235.1"/>
<line class="t" x1="1407.7" y1="1196.5" x2="1407.7" y2="1218.5"/>
<line class="t" x1="1456.7" y1="1169.5" x2="1456.7" y2="1180.5"/>
<line class="t" x1="1504.6" y1="1143.1" x2="1504.6" y2="1165.1"/>
<line class="t" x1="1551.4" y1="1117.3" x2="1551.4" y2="1128.3"/>
<line class="t" x1="1551.4" y1="1117.3" x2="1573.4" y2="1117.3"/>
<line class="t" x1="1551.4" y1="910.8" x2="1573.4" y2="910.8"/>
<line class="t" x1="1551.5" y1="697.9" x2="1573.5" y2="697.9"/>
<line class="t" x1="1551.5" y1="478.2" x2="1573.5" y2="478.2"/>
<line class="t" x1="1551.6" y1="251.3" x2="1573.6" y2="251.3"/></g>
<text x="131.9" y="1271.1" font-size="44.8" text-anchor="middle">0.2</text>
<text x="211.0" y="1306.6" font-size="45.7" text-anchor="middle">0.3</text>
<text x="293.9" y="1343.3" font-size="46.6" text-anchor="middle">0.4</text>
<text x="378.1" y="1380.0" font-size="47.4" text-anchor="middle">0.5</text>
<text x="466.8" y="1418.0" font-size="48.3" text-anchor="middle">0.6</text>
<text x="560.0" y="1456.3" font-size="49.1" text-anchor="middle">0.7</text>
<text x="655.0" y="1500.0" font-size="50.0" text-anchor="middle">0.8</text>
<text x="756.0" y="1543.3" font-size="50.9" text-anchor="middle">0.9</text>
<text x="862.0" y="1589.5" font-size="51.7" text-anchor="middle">1.0</text>
<text x="968.9" y="1527.8" font-size="51.4" text-anchor="middle">40</text>
<text x="1086.7" y="1460.7" font-size="49.8" text-anchor="middle">60</text>
<text x="1200.0" y="1395.5" font-size="48.2" text-anchor="middle">80</text>
<text x="1307.8" y="1333.8" font-size="46.6" text-anchor="middle">100</text>
<text x="1410.0" y="1275.9" font-size="45.3" text-anchor="middle">120</text>
<text x="1507.0" y="1221.5" font-size="44.0" text-anchor="middle">140</text>
<text x="1589.5" y="1132.8" font-size="46.1" text-anchor="start">0.0</text>
<text x="1589.5" y="926.6" font-size="46.9" text-anchor="start">0.2</text>
<text x="1589.5" y="714.0" font-size="47.7" text-anchor="start">0.4</text>
<text x="1589.5" y="494.5" font-size="48.5" text-anchor="start">0.6</text>
<text x="1589.5" y="267.9" font-size="49.3" text-anchor="start">0.8</text>
<text transform="translate(137,1398) rotate(25.9) scale(1.035,1)" font-size="112.5">Depth/mm</text>
<text transform="translate(1189,1563) rotate(-32.6) scale(1.0,1)" font-size="113">Angle/°</text>
<text transform="translate(1704,92.5) rotate(90) scale(0.981,1)" font-size="118">Reflection Coefficient</text></g>
</svg></body></html>
